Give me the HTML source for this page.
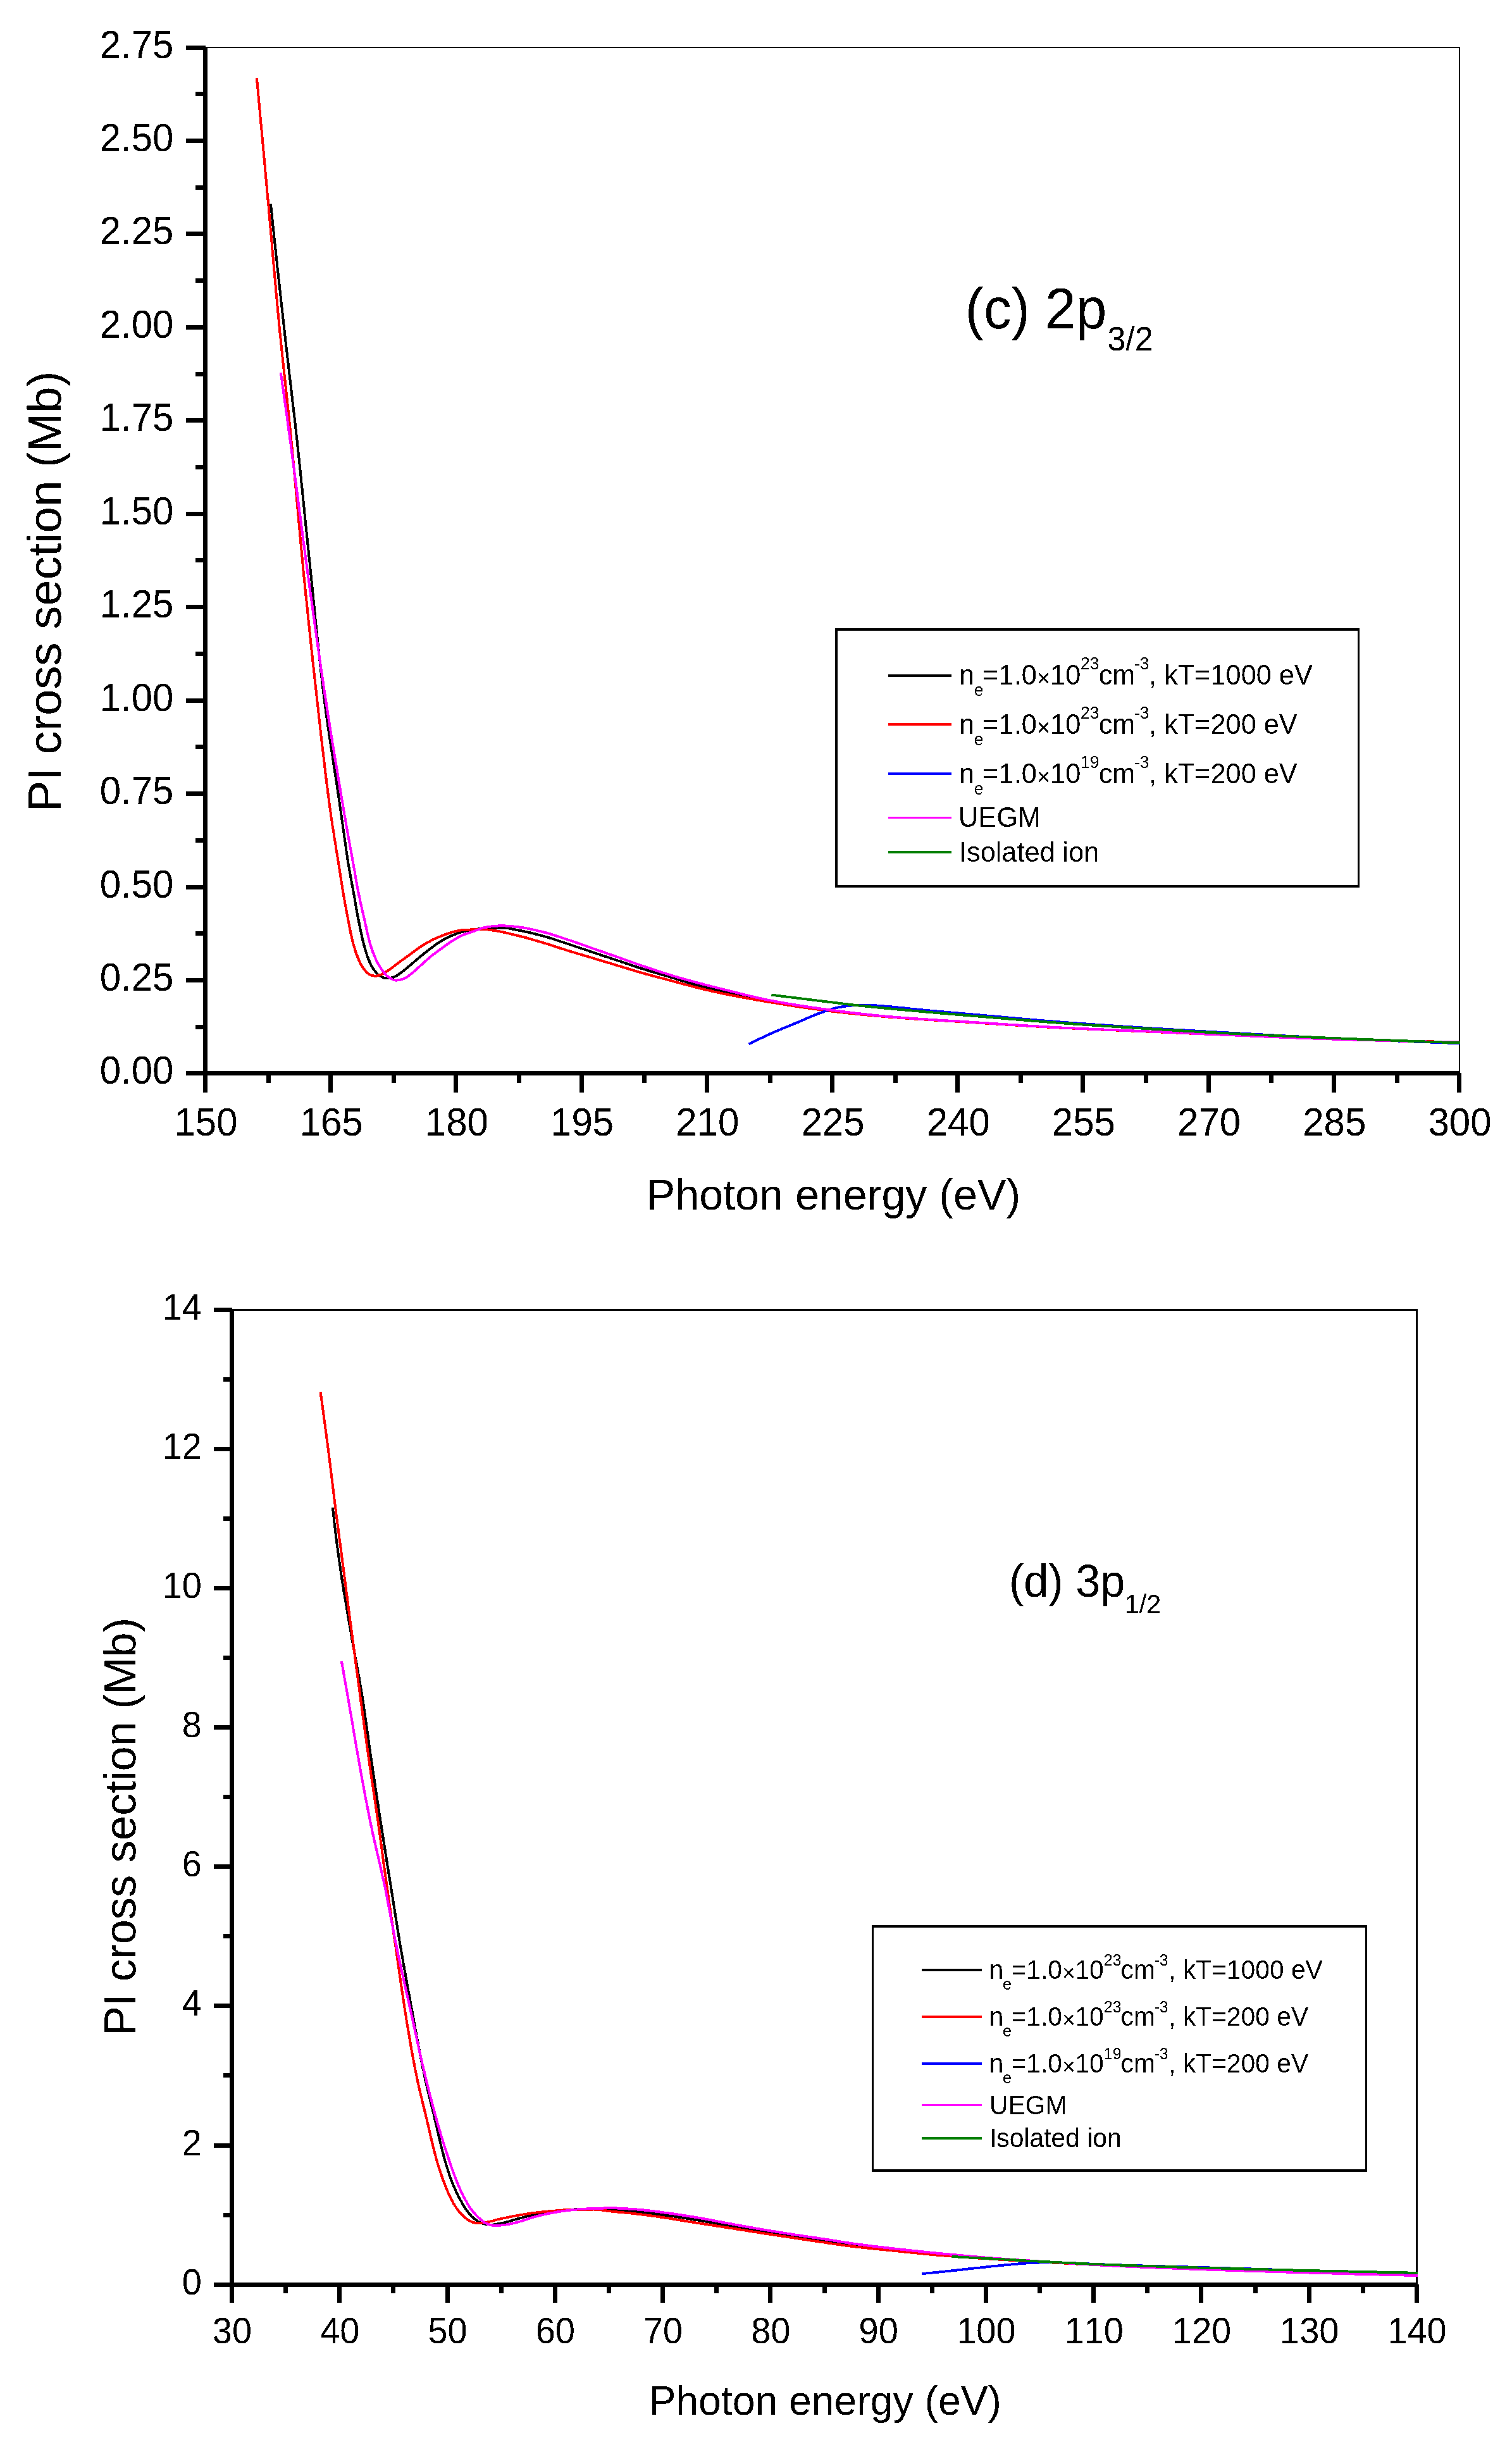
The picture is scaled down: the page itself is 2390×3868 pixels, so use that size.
<!DOCTYPE html>
<html><head><meta charset="utf-8"><title>PI cross section</title>
<style>html,body{margin:0;padding:0;background:#fff}svg{display:block}text{font-kerning:none;font-family:"Liberation Sans",sans-serif;fill:#000}</style></head>
<body>
<svg width="2390" height="3868" viewBox="0 0 2390 3868">
<rect width="2390" height="3868" fill="#fff"/>
<defs><filter id="th" filterUnits="userSpaceOnUse" x="0" y="0" width="2390" height="3868"><feComponentTransfer><feFuncA type="discrete" tableValues="0 1"/></feComponentTransfer></filter></defs>
<g shape-rendering="crispEdges">
<rect x="325" y="74" width="1983" height="2" fill="#000"/>
<rect x="2306" y="74" width="2" height="1622" fill="#000"/>
<rect x="321" y="74" width="7" height="1653" fill="#000"/>
<rect x="294" y="1693" width="2012" height="7" fill="#000"/>
<rect x="294" y="1693" width="27" height="7" fill="#000"/>
<rect x="309" y="1620" width="12" height="7" fill="#000"/>
<rect x="294" y="1546" width="27" height="7" fill="#000"/>
<rect x="309" y="1472" width="12" height="7" fill="#000"/>
<rect x="294" y="1399" width="27" height="7" fill="#000"/>
<rect x="309" y="1325" width="12" height="7" fill="#000"/>
<rect x="294" y="1251" width="27" height="7" fill="#000"/>
<rect x="309" y="1177" width="12" height="7" fill="#000"/>
<rect x="294" y="1104" width="27" height="7" fill="#000"/>
<rect x="309" y="1030" width="12" height="7" fill="#000"/>
<rect x="294" y="956" width="27" height="7" fill="#000"/>
<rect x="309" y="882" width="12" height="7" fill="#000"/>
<rect x="294" y="809" width="27" height="7" fill="#000"/>
<rect x="309" y="735" width="12" height="7" fill="#000"/>
<rect x="294" y="661" width="27" height="7" fill="#000"/>
<rect x="309" y="588" width="12" height="7" fill="#000"/>
<rect x="294" y="514" width="27" height="7" fill="#000"/>
<rect x="309" y="440" width="12" height="7" fill="#000"/>
<rect x="294" y="366" width="27" height="7" fill="#000"/>
<rect x="309" y="293" width="12" height="7" fill="#000"/>
<rect x="294" y="219" width="27" height="7" fill="#000"/>
<rect x="309" y="145" width="12" height="7" fill="#000"/>
<rect x="294" y="72" width="31" height="7" fill="#000"/>
<rect x="321" y="1700" width="7" height="27" fill="#000"/>
<rect x="421" y="1700" width="7" height="12" fill="#000"/>
<rect x="519" y="1700" width="7" height="27" fill="#000"/>
<rect x="619" y="1700" width="7" height="12" fill="#000"/>
<rect x="717" y="1700" width="7" height="27" fill="#000"/>
<rect x="817" y="1700" width="7" height="12" fill="#000"/>
<rect x="916" y="1700" width="7" height="27" fill="#000"/>
<rect x="1015" y="1700" width="7" height="12" fill="#000"/>
<rect x="1114" y="1700" width="7" height="27" fill="#000"/>
<rect x="1214" y="1700" width="7" height="12" fill="#000"/>
<rect x="1312" y="1700" width="7" height="27" fill="#000"/>
<rect x="1412" y="1700" width="7" height="12" fill="#000"/>
<rect x="1510" y="1700" width="7" height="27" fill="#000"/>
<rect x="1610" y="1700" width="7" height="12" fill="#000"/>
<rect x="1708" y="1700" width="7" height="27" fill="#000"/>
<rect x="1808" y="1700" width="7" height="12" fill="#000"/>
<rect x="1907" y="1700" width="7" height="27" fill="#000"/>
<rect x="2006" y="1700" width="7" height="12" fill="#000"/>
<rect x="2105" y="1700" width="7" height="27" fill="#000"/>
<rect x="2205" y="1700" width="7" height="12" fill="#000"/>
<rect x="2303" y="1696" width="7" height="31" fill="#000"/>
</g>
<clipPath id="clip1"><rect x="321" y="72" width="1987" height="1631"/></clipPath>
<g clip-path="url(#clip1)" shape-rendering="crispEdges">
<polyline points="427.9,321.9 428.2,324.9 428.5,327.9 428.8,330.9 429.1,333.9 429.5,336.8 429.8,339.8 430.1,342.8 430.4,345.8 430.7,348.8 431.0,351.8 431.3,354.8 431.6,357.7 432.0,360.7 432.3,363.7 432.6,366.7 432.9,369.7 433.2,372.7 433.5,375.7 433.9,378.7 434.2,381.6 434.5,384.6 434.8,387.6 435.1,390.6 435.4,393.6 435.8,396.6 436.1,399.6 436.4,402.6 436.7,405.5 437.0,408.5 437.4,411.5 437.7,414.5 438.0,417.5 438.3,420.5 438.6,423.5 439.0,426.4 439.3,429.4 439.6,432.4 439.9,435.4 440.3,438.4 440.6,441.4 440.9,444.4 441.2,447.3 441.6,450.3 441.9,453.3 442.2,456.3 442.5,459.3 442.9,462.3 443.2,465.3 443.5,468.2 443.8,471.2 444.2,474.2 444.5,477.2 444.8,480.2 445.1,483.2 445.5,486.2 445.8,489.1 446.1,492.1 446.5,495.1 446.8,498.1 447.1,501.1 447.5,504.1 447.8,507.1 448.1,510.0 448.5,513.0 448.8,516.0 449.1,519.0 449.5,522.0 449.8,525.0 450.1,527.9 450.5,530.9 450.8,533.9 451.2,536.9 451.5,539.9 451.8,542.9 452.2,545.9 452.5,548.8 452.9,551.8 453.2,554.8 453.6,557.8 453.9,560.8 454.3,563.8 454.6,566.7 455.0,569.7 455.3,572.7 455.7,575.7 456.0,578.7 456.4,581.7 456.7,584.6 457.1,587.6 457.4,590.6 457.7,593.6 458.1,596.6 458.4,599.6 458.8,602.5 459.1,605.5 459.5,608.5 459.8,611.5 460.2,614.5 460.5,617.5 460.9,620.4 461.2,623.4 461.6,626.4 461.9,629.4 462.3,632.4 462.6,635.4 463.0,638.3 463.3,641.3 463.6,644.3 464.0,647.3 464.3,650.3 464.7,653.3 465.0,656.2 465.4,659.2 465.7,662.2 466.0,665.2 466.4,668.2 466.7,671.2 467.0,674.2 467.4,677.1 467.7,680.1 468.0,683.1 468.4,686.1 468.7,689.1 469.0,692.1 469.4,695.0 469.7,698.0 470.0,701.0 470.3,704.0 470.7,707.0 471.0,710.0 471.3,713.0 471.6,716.0 471.9,718.9 472.3,721.9 472.6,724.9 472.9,727.9 473.2,730.9 473.5,733.9 473.8,736.9 474.1,739.8 474.5,742.8 474.8,745.8 475.1,748.8 475.4,751.8 475.7,754.8 476.0,757.8 476.3,760.8 476.6,763.7 476.9,766.7 477.2,769.7 477.6,772.7 477.9,775.7 478.2,778.7 478.5,781.7 478.8,784.7 479.1,787.6 479.4,790.6 479.7,793.6 480.0,796.6 480.3,799.6 480.6,802.6 480.9,805.6 481.2,808.6 481.5,811.6 481.8,814.5 482.1,817.5 482.4,820.5 482.7,823.5 483.0,826.5 483.3,829.5 483.6,832.5 484.0,835.5 484.3,838.4 484.6,841.4 484.9,844.4 485.2,847.4 485.5,850.4 485.8,853.4 486.1,856.4 486.4,859.4 486.7,862.4 487.0,865.3 487.3,868.3 487.6,871.3 487.9,874.3 488.2,877.3 488.5,880.3 488.9,883.3 489.2,886.3 489.5,889.2 489.8,892.2 490.1,895.2 490.4,898.2 490.7,901.2 491.0,904.2 491.3,907.2 491.7,910.2 492.0,913.1 492.3,916.1 492.6,919.1 492.9,922.1 493.2,925.1 493.5,928.1 493.8,931.1 494.1,934.1 494.4,937.1 494.7,940.0 495.0,943.0 495.3,946.0 495.6,949.0 495.9,952.0 496.2,955.0 496.5,958.0 496.8,961.0 497.1,964.0 497.4,966.9 497.7,969.9 498.0,972.9 498.3,975.9 498.6,978.9 498.9,981.9 499.2,984.9 499.5,987.9 499.8,990.9 500.1,993.8 500.5,996.8 500.8,999.8 501.1,1002.8 501.4,1005.8 501.7,1008.8 502.0,1011.8 502.3,1014.8 502.6,1017.7 502.9,1020.7 503.2,1023.7 503.6,1026.7 503.9,1029.7 504.2,1032.7 504.5,1035.7 504.8,1038.7 505.2,1041.6 505.5,1044.6 505.8,1047.6 506.1,1050.6 506.5,1053.6 506.8,1056.6 507.1,1059.6 507.5,1062.5 507.8,1065.5 508.2,1068.5 508.5,1071.5 508.8,1074.5 509.2,1077.5 509.5,1080.4 509.9,1083.4 510.2,1086.4 510.6,1089.4 511.0,1092.4 511.3,1095.3 511.7,1098.3 512.1,1101.3 512.4,1104.3 512.8,1107.3 513.2,1110.2 513.6,1113.2 514.0,1116.2 514.4,1119.2 514.8,1122.1 515.2,1125.1 515.6,1128.1 516.0,1131.1 516.4,1134.0 516.8,1137.0 517.2,1140.0 517.7,1143.0 518.1,1145.9 518.5,1148.9 519.0,1151.9 519.4,1154.8 519.8,1157.8 520.3,1160.8 520.7,1163.8 521.1,1166.7 521.6,1169.7 522.0,1172.7 522.5,1175.6 522.9,1178.6 523.4,1181.6 523.8,1184.6 524.3,1187.5 524.7,1190.5 525.2,1193.5 525.7,1196.4 526.1,1199.4 526.6,1202.4 527.0,1205.3 527.5,1208.3 527.9,1211.3 528.4,1214.2 528.9,1217.2 529.3,1220.2 529.8,1223.2 530.2,1226.1 530.7,1229.1 531.1,1232.1 531.6,1235.0 532.0,1238.0 532.5,1241.0 532.9,1243.9 533.4,1246.9 533.8,1249.9 534.3,1252.9 534.7,1255.8 535.2,1258.8 535.6,1261.8 536.0,1264.7 536.5,1267.7 536.9,1270.7 537.3,1273.7 537.8,1276.6 538.2,1279.6 538.6,1282.6 539.0,1285.6 539.5,1288.5 539.9,1291.5 540.3,1294.5 540.7,1297.5 541.2,1300.4 541.6,1303.4 542.0,1306.4 542.4,1309.3 542.9,1312.3 543.3,1315.3 543.7,1318.3 544.1,1321.2 544.6,1324.2 545.0,1327.2 545.4,1330.2 545.8,1333.1 546.3,1336.1 546.7,1339.1 547.1,1342.1 547.5,1345.0 548.0,1348.0 548.4,1351.0 548.8,1353.9 549.3,1356.9 549.7,1359.9 550.2,1362.8 550.7,1365.8 551.2,1368.8 551.7,1371.7 552.2,1374.7 552.7,1377.7 553.2,1380.6 553.8,1383.6 554.3,1386.5 554.9,1389.5 555.4,1392.4 556.0,1395.4 556.5,1398.3 557.1,1401.3 557.6,1404.2 558.2,1407.2 558.7,1410.1 559.2,1413.1 559.8,1416.1 560.3,1419.0 560.8,1422.0 561.3,1424.9 561.8,1427.9 562.3,1430.9 562.8,1433.8 563.4,1436.8 563.9,1439.7 564.4,1442.7 565.0,1445.6 565.5,1448.6 566.1,1451.5 566.7,1454.5 567.3,1457.4 567.9,1460.4 568.5,1463.3 569.1,1466.3 569.7,1469.2 570.3,1472.2 570.9,1475.1 571.6,1478.0 572.2,1481.0 572.9,1483.9 573.6,1486.8 574.3,1489.7 575.1,1492.6 575.8,1495.5 576.6,1498.4 577.5,1501.3 578.3,1504.2 579.2,1507.1 580.2,1510.0 581.2,1512.8 582.2,1515.6 583.3,1518.4 584.5,1521.1 585.7,1523.9 587.1,1526.5 588.7,1529.2 590.3,1531.7 592.0,1534.1 593.9,1536.6 595.9,1539.0 598.1,1541.0 600.4,1542.6 603.1,1544.1 605.9,1545.4 608.9,1546.1 611.8,1546.2 614.9,1545.9 617.9,1545.6 620.8,1545.1 623.5,1544.2 626.2,1542.7 628.8,1541.0 631.3,1539.3 633.8,1537.6 636.2,1535.8 638.5,1533.9 640.9,1532.0 643.2,1530.1 645.5,1528.2 647.8,1526.3 650.1,1524.3 652.4,1522.4 654.7,1520.4 657.0,1518.4 659.2,1516.5 661.5,1514.5 663.8,1512.6 666.2,1510.7 668.5,1508.8 670.8,1506.9 673.2,1505.0 675.5,1503.2 677.9,1501.3 680.3,1499.5 682.7,1497.7 685.1,1495.9 687.5,1494.1 690.0,1492.3 692.4,1490.6 694.9,1489.0 697.5,1487.4 700.1,1485.9 702.7,1484.5 705.4,1483.1 708.1,1481.7 710.8,1480.4 713.5,1479.2 716.3,1478.1 719.1,1476.9 721.9,1475.9 724.7,1474.8 727.6,1473.9 730.5,1473.1 733.4,1472.3 736.3,1471.6 739.2,1471.0 742.2,1470.5 745.2,1470.0 748.1,1469.5 751.1,1469.1 754.1,1468.6 757.1,1468.2 760.0,1467.8 763.0,1467.5 766.0,1467.3 769.0,1467.2 772.0,1467.0 775.0,1466.9 778.0,1466.8 781.0,1466.7 784.0,1466.6 787.1,1466.6 790.0,1466.5 793.0,1466.5 796.0,1466.6 799.0,1466.8 802.0,1467.2 805.0,1467.7 807.9,1468.2 810.9,1468.8 813.9,1469.4 816.8,1470.0 819.8,1470.6 822.7,1471.1 825.7,1471.7 828.6,1472.3 831.5,1472.9 834.5,1473.6 837.4,1474.2 840.3,1474.9 843.3,1475.6 846.2,1476.4 849.1,1477.1 852.0,1477.8 854.9,1478.6 857.8,1479.4 860.7,1480.2 863.6,1481.0 866.5,1481.8 869.3,1482.7 872.2,1483.6 875.1,1484.5 877.9,1485.5 880.8,1486.4 883.6,1487.4 886.5,1488.3 889.3,1489.3 892.2,1490.2 895.0,1491.2 897.9,1492.1 900.7,1493.1 903.6,1494.0 906.4,1495.0 909.3,1495.9 912.1,1496.9 915.0,1497.8 917.8,1498.8 920.7,1499.7 923.5,1500.7 926.4,1501.7 929.2,1502.6 932.1,1503.6 934.9,1504.5 937.7,1505.5 940.6,1506.4 943.4,1507.4 946.3,1508.3 949.1,1509.3 952.0,1510.2 954.8,1511.2 957.7,1512.1 960.5,1513.1 963.4,1514.0 966.2,1515.0 969.1,1515.9 972.0,1516.9 974.8,1517.8 977.7,1518.8 980.5,1519.7 983.3,1520.7 986.2,1521.6 989.0,1522.6 991.9,1523.5 994.7,1524.5 997.6,1525.5 1000.4,1526.4 1003.3,1527.4 1006.1,1528.3 1009.0,1529.3 1011.8,1530.2 1014.7,1531.1 1017.6,1532.0 1020.4,1532.9 1023.3,1533.8 1026.2,1534.7 1029.0,1535.6 1031.9,1536.4 1034.8,1537.3 1037.7,1538.1 1040.5,1539.0 1043.4,1539.8 1046.3,1540.7 1049.2,1541.5 1052.1,1542.4 1055.0,1543.2 1057.8,1544.1 1060.7,1545.0 1063.6,1545.8 1066.5,1546.7 1069.3,1547.6 1072.2,1548.5 1075.1,1549.4 1077.9,1550.3 1080.8,1551.2 1083.7,1552.0 1086.6,1552.9 1089.4,1553.7 1092.3,1554.6 1095.2,1555.4 1098.1,1556.2 1101.0,1557.0 1103.9,1557.7 1106.8,1558.5 1109.7,1559.2 1112.6,1560.0 1115.6,1560.7 1118.5,1561.4 1121.4,1562.1 1124.3,1562.8 1127.2,1563.5 1130.2,1564.2 1133.1,1564.9 1136.0,1565.6 1138.9,1566.3 1141.9,1566.9 1144.8,1567.6 1147.7,1568.2 1150.6,1568.9 1153.6,1569.6 1156.5,1570.2 1159.4,1570.9 1162.4,1571.5 1165.3,1572.2 1168.3,1572.8 1171.2,1573.4 1174.1,1574.1 1177.1,1574.7 1180.0,1575.3 1182.9,1575.9 1185.9,1576.5 1188.8,1577.1 1191.8,1577.7 1194.7,1578.3 1197.7,1578.9 1200.6,1579.5 1203.6,1580.1 1206.5,1580.6 1209.5,1581.2 1212.4,1581.7 1215.4,1582.3 1218.3,1582.8 1221.3,1583.3 1224.2,1583.9 1227.2,1584.4 1230.1,1584.9 1233.1,1585.4 1236.1,1585.9 1239.0,1586.4 1242.0,1586.9 1245.0,1587.4 1247.9,1587.9 1250.9,1588.4 1253.9,1588.9 1256.8,1589.3 1259.8,1589.8 1262.8,1590.3 1265.7,1590.7 1268.7,1591.2 1271.7,1591.7 1274.6,1592.1 1277.6,1592.6 1280.6,1593.0 1283.6,1593.4 1286.5,1593.9 1289.5,1594.3 1292.5,1594.7 1295.5,1595.1 1298.4,1595.5 1301.4,1595.9 1304.4,1596.3 1307.4,1596.7 1310.3,1597.1 1313.3,1597.5 1316.3,1597.8 1319.3,1598.2 1322.2,1598.6 1325.2,1598.9 1328.2,1599.3 1331.2,1599.7 1334.2,1600.0 1337.2,1600.4 1340.1,1600.7 1343.1,1601.1 1346.1,1601.4 1349.1,1601.7 1352.1,1602.1 1355.1,1602.4 1358.1,1602.7 1361.0,1603.0 1364.0,1603.4 1367.0,1603.7 1370.0,1604.0 1373.0,1604.3 1376.0,1604.6 1379.0,1604.9 1382.0,1605.2 1385.0,1605.5 1388.0,1605.7 1390.9,1606.0 1393.9,1606.3 1396.9,1606.5 1399.9,1606.8 1402.9,1607.1 1405.9,1607.3 1408.9,1607.6 1411.9,1607.8 1414.9,1608.0 1417.9,1608.3 1420.9,1608.5 1423.9,1608.7 1426.9,1609.0 1429.8,1609.2 1432.8,1609.4 1435.8,1609.6 1438.8,1609.8 1441.8,1610.1 1444.8,1610.3 1447.8,1610.5 1450.8,1610.7 1453.8,1610.9 1456.8,1611.1 1459.8,1611.3 1462.8,1611.5 1465.8,1611.7 1468.8,1611.9 1471.8,1612.1 1474.8,1612.3 1477.8,1612.4 1480.8,1612.6 1483.8,1612.8 1486.8,1613.0 1489.8,1613.2 1492.8,1613.4 1495.8,1613.6 1498.8,1613.7 1501.8,1613.9 1504.8,1614.1 1507.8,1614.3 1510.8,1614.5 1513.8,1614.7 1516.8,1614.9 1519.8,1615.0 1522.8,1615.2 1525.8,1615.4 1528.8,1615.6 1531.8,1615.8 1534.8,1616.0 1537.8,1616.2 1540.8,1616.3 1543.8,1616.5 1546.8,1616.7 1549.8,1616.9 1552.8,1617.1 1555.7,1617.3 1558.7,1617.5 1561.7,1617.7 1564.7,1617.9 1567.7,1618.1 1570.7,1618.3 1573.7,1618.5 1576.7,1618.7 1579.7,1618.8 1582.7,1619.0 1585.7,1619.2 1588.7,1619.4 1591.7,1619.6 1594.7,1619.8 1597.7,1620.0 1600.7,1620.2 1603.7,1620.4 1606.7,1620.5 1609.7,1620.7 1612.7,1620.9 1615.7,1621.1 1618.7,1621.3 1621.7,1621.5 1624.7,1621.6 1627.7,1621.8 1630.7,1622.0 1633.7,1622.2 1636.7,1622.4 1639.7,1622.5 1642.7,1622.7 1645.7,1622.9 1648.7,1623.0 1651.7,1623.2 1654.7,1623.4 1657.7,1623.5 1660.7,1623.7 1663.7,1623.9 1666.7,1624.0 1669.7,1624.2 1672.7,1624.3 1675.7,1624.5 1678.7,1624.6 1681.7,1624.8 1684.7,1624.9 1687.7,1625.1 1690.7,1625.2 1693.7,1625.3 1696.7,1625.5 1699.7,1625.6 1702.7,1625.8 1705.7,1625.9 1708.7,1626.0 1711.7,1626.2 1714.7,1626.3 1717.7,1626.4 1720.7,1626.6 1723.7,1626.7 1726.7,1626.8 1729.7,1626.9 1732.7,1627.1 1735.7,1627.2 1738.7,1627.3 1741.7,1627.5 1744.7,1627.6 1747.7,1627.7 1750.7,1627.8 1753.7,1628.0 1756.7,1628.1 1759.7,1628.2 1762.7,1628.3 1765.7,1628.5 1768.7,1628.6 1771.7,1628.7 1774.7,1628.8 1777.7,1629.0 1780.7,1629.1 1783.7,1629.2 1786.7,1629.3 1789.7,1629.5 1792.7,1629.6 1795.7,1629.7 1798.7,1629.8 1801.7,1630.0 1804.7,1630.1 1807.7,1630.2 1810.7,1630.4 1813.7,1630.5 1816.7,1630.6 1819.7,1630.8 1822.7,1630.9 1825.7,1631.0 1828.7,1631.2 1831.7,1631.3 1834.7,1631.4 1837.7,1631.6 1840.7,1631.7 1843.7,1631.8 1846.7,1632.0 1849.7,1632.1 1852.7,1632.2 1855.7,1632.4 1858.7,1632.5 1861.7,1632.6 1864.7,1632.8 1867.7,1632.9 1870.7,1633.0 1873.7,1633.2 1876.7,1633.3 1879.7,1633.4 1882.7,1633.5 1885.7,1633.7 1888.7,1633.8 1891.7,1633.9 1894.7,1634.1 1897.7,1634.2 1900.7,1634.3 1903.7,1634.5 1906.7,1634.6 1909.7,1634.7 1912.7,1634.9 1915.7,1635.0 1918.7,1635.1 1921.7,1635.2 1924.7,1635.4 1927.7,1635.5 1930.7,1635.6 1933.7,1635.7 1936.7,1635.9 1939.7,1636.0 1942.7,1636.1 1945.7,1636.2 1948.7,1636.4 1951.7,1636.5 1954.7,1636.6 1957.7,1636.7 1960.7,1636.9 1963.7,1637.0 1966.8,1637.1 1969.8,1637.2 1972.8,1637.4 1975.8,1637.5 1978.8,1637.6 1981.8,1637.7 1984.8,1637.9 1987.8,1638.0 1990.8,1638.1 1993.8,1638.2 1996.8,1638.4 1999.8,1638.5 2002.8,1638.6 2005.8,1638.7 2008.8,1638.8 2011.8,1639.0 2014.8,1639.1 2017.8,1639.2 2020.8,1639.3 2023.8,1639.4 2026.8,1639.6 2029.8,1639.7 2032.8,1639.8 2035.8,1639.9 2038.8,1640.0 2041.8,1640.1 2044.8,1640.2 2047.8,1640.3 2050.8,1640.5 2053.8,1640.6 2056.8,1640.7 2059.8,1640.8 2062.8,1640.9 2065.8,1641.0 2068.8,1641.1 2071.8,1641.2 2074.8,1641.3 2077.8,1641.4 2080.8,1641.5 2083.8,1641.6 2086.8,1641.7 2089.8,1641.8 2092.8,1641.9 2095.8,1642.0 2098.8,1642.1 2101.8,1642.1 2104.8,1642.2 2107.8,1642.3 2110.8,1642.4 2113.8,1642.5 2116.8,1642.6 2119.8,1642.7 2122.8,1642.8 2125.8,1642.9 2128.8,1642.9 2131.8,1643.0 2134.8,1643.1 2137.8,1643.2 2140.8,1643.3 2143.8,1643.4 2146.9,1643.5 2149.9,1643.5 2152.9,1643.6 2155.9,1643.7 2158.9,1643.8 2161.9,1643.9 2164.9,1644.0 2167.9,1644.0 2170.9,1644.1 2173.9,1644.2 2176.9,1644.3 2179.9,1644.4 2182.9,1644.4 2185.9,1644.5 2188.9,1644.6 2191.9,1644.7 2194.9,1644.7 2197.9,1644.8 2200.9,1644.9 2203.9,1645.0 2206.9,1645.1 2209.9,1645.1 2212.9,1645.2 2215.9,1645.3 2218.9,1645.4 2221.9,1645.4 2224.9,1645.5 2227.9,1645.6 2230.9,1645.7 2233.9,1645.7 2236.9,1645.8 2239.9,1645.9 2242.9,1646.0 2245.9,1646.0 2248.9,1646.1 2251.9,1646.2 2254.9,1646.2 2257.9,1646.3 2261.0,1646.4 2264.0,1646.4 2267.0,1646.5 2270.0,1646.6 2273.0,1646.7 2276.0,1646.7 2279.0,1646.8 2282.0,1646.9 2285.0,1646.9 2288.0,1647.0 2291.0,1647.1 2294.0,1647.1 2297.0,1647.2 2300.0,1647.2 2303.0,1647.3 2306.0,1647.4 2309.0,1647.4 2312.0,1647.5" fill="none" stroke="#000000" stroke-width="4" stroke-linejoin="round"/>
<polyline points="405.8,122.9 406.1,125.9 406.4,128.9 406.6,131.9 406.9,134.9 407.2,137.9 407.5,140.8 407.7,143.8 408.0,146.8 408.3,149.8 408.6,152.8 408.9,155.8 409.1,158.8 409.4,161.8 409.7,164.8 410.0,167.8 410.2,170.8 410.5,173.8 410.8,176.7 411.1,179.7 411.3,182.7 411.6,185.7 411.9,188.7 412.2,191.7 412.4,194.7 412.7,197.7 413.0,200.7 413.3,203.7 413.6,206.7 413.8,209.7 414.1,212.6 414.4,215.6 414.7,218.6 414.9,221.6 415.2,224.6 415.5,227.6 415.8,230.6 416.0,233.6 416.3,236.6 416.6,239.6 416.8,242.6 417.1,245.6 417.4,248.5 417.7,251.5 417.9,254.5 418.2,257.5 418.5,260.5 418.8,263.5 419.0,266.5 419.3,269.5 419.6,272.5 419.9,275.5 420.1,278.5 420.4,281.5 420.7,284.4 420.9,287.4 421.2,290.4 421.5,293.4 421.8,296.4 422.0,299.4 422.3,302.4 422.6,305.4 422.8,308.4 423.1,311.4 423.4,314.4 423.7,317.4 423.9,320.3 424.2,323.3 424.5,326.3 424.7,329.3 425.0,332.3 425.3,335.3 425.5,338.3 425.8,341.3 426.1,344.3 426.3,347.3 426.6,350.3 426.9,353.3 427.1,356.3 427.4,359.2 427.7,362.2 427.9,365.2 428.2,368.2 428.4,371.2 428.7,374.2 429.0,377.2 429.2,380.2 429.5,383.2 429.8,386.2 430.0,389.2 430.3,392.2 430.5,395.2 430.8,398.2 431.1,401.1 431.3,404.1 431.6,407.1 431.8,410.1 432.1,413.1 432.4,416.1 432.6,419.1 432.9,422.1 433.2,425.1 433.4,428.1 433.7,431.1 433.9,434.1 434.2,437.1 434.5,440.1 434.7,443.0 435.0,446.0 435.3,449.0 435.6,452.0 435.8,455.0 436.1,458.0 436.4,461.0 436.6,464.0 436.9,467.0 437.2,470.0 437.5,473.0 437.7,476.0 438.0,478.9 438.3,481.9 438.6,484.9 438.9,487.9 439.1,490.9 439.4,493.9 439.7,496.9 440.0,499.9 440.3,502.9 440.6,505.9 440.9,508.9 441.2,511.8 441.4,514.8 441.7,517.8 442.0,520.8 442.3,523.8 442.6,526.8 442.9,529.8 443.3,532.8 443.6,535.8 443.9,538.7 444.2,541.7 444.5,544.7 444.8,547.7 445.1,550.7 445.4,553.7 445.7,556.7 446.0,559.7 446.4,562.6 446.7,565.6 447.0,568.6 447.3,571.6 447.6,574.6 447.9,577.6 448.3,580.6 448.6,583.6 448.9,586.5 449.2,589.5 449.5,592.5 449.9,595.5 450.2,598.5 450.5,601.5 450.8,604.5 451.1,607.5 451.5,610.4 451.8,613.4 452.1,616.4 452.4,619.4 452.8,622.4 453.1,625.4 453.4,628.4 453.7,631.4 454.0,634.3 454.3,637.3 454.7,640.3 455.0,643.3 455.3,646.3 455.6,649.3 455.9,652.3 456.2,655.3 456.6,658.2 456.9,661.2 457.2,664.2 457.5,667.2 457.8,670.2 458.1,673.2 458.4,676.2 458.7,679.2 459.0,682.1 459.3,685.1 459.6,688.1 459.9,691.1 460.2,694.1 460.5,697.1 460.8,700.1 461.1,703.1 461.4,706.1 461.7,709.1 462.0,712.0 462.3,715.0 462.5,718.0 462.8,721.0 463.1,724.0 463.4,727.0 463.7,730.0 464.0,733.0 464.2,736.0 464.5,739.0 464.8,741.9 465.1,744.9 465.4,747.9 465.6,750.9 465.9,753.9 466.2,756.9 466.4,759.9 466.7,762.9 467.0,765.9 467.3,768.9 467.5,771.9 467.8,774.9 468.1,777.9 468.4,780.8 468.6,783.8 468.9,786.8 469.2,789.8 469.4,792.8 469.7,795.8 470.0,798.8 470.2,801.8 470.5,804.8 470.8,807.8 471.1,810.8 471.3,813.8 471.6,816.7 471.9,819.7 472.1,822.7 472.4,825.7 472.7,828.7 473.0,831.7 473.2,834.7 473.5,837.7 473.8,840.7 474.1,843.7 474.3,846.7 474.6,849.7 474.9,852.6 475.2,855.6 475.4,858.6 475.7,861.6 476.0,864.6 476.3,867.6 476.6,870.6 476.8,873.6 477.1,876.6 477.4,879.6 477.7,882.6 478.0,885.5 478.3,888.5 478.6,891.5 478.9,894.5 479.2,897.5 479.4,900.5 479.7,903.5 480.0,906.5 480.3,909.5 480.6,912.5 480.9,915.4 481.2,918.4 481.5,921.4 481.8,924.4 482.1,927.4 482.4,930.4 482.7,933.4 483.0,936.4 483.3,939.4 483.6,942.3 483.9,945.3 484.3,948.3 484.6,951.3 484.9,954.3 485.2,957.3 485.5,960.3 485.8,963.3 486.1,966.3 486.4,969.2 486.7,972.2 487.0,975.2 487.3,978.2 487.6,981.2 488.0,984.2 488.3,987.2 488.6,990.2 488.9,993.1 489.2,996.1 489.5,999.1 489.8,1002.1 490.2,1005.1 490.5,1008.1 490.8,1011.1 491.1,1014.1 491.4,1017.0 491.7,1020.0 492.1,1023.0 492.4,1026.0 492.7,1029.0 493.0,1032.0 493.3,1035.0 493.7,1038.0 494.0,1040.9 494.3,1043.9 494.6,1046.9 495.0,1049.9 495.3,1052.9 495.6,1055.9 495.9,1058.9 496.3,1061.9 496.6,1064.8 496.9,1067.8 497.3,1070.8 497.6,1073.8 497.9,1076.8 498.2,1079.8 498.6,1082.8 498.9,1085.7 499.2,1088.7 499.6,1091.7 499.9,1094.7 500.2,1097.7 500.6,1100.7 500.9,1103.7 501.2,1106.6 501.6,1109.6 501.9,1112.6 502.2,1115.6 502.6,1118.6 502.9,1121.6 503.3,1124.6 503.6,1127.5 503.9,1130.5 504.3,1133.5 504.6,1136.5 504.9,1139.5 505.3,1142.5 505.6,1145.5 505.9,1148.4 506.3,1151.4 506.6,1154.4 506.9,1157.4 507.3,1160.4 507.6,1163.4 508.0,1166.4 508.3,1169.3 508.6,1172.3 509.0,1175.3 509.3,1178.3 509.7,1181.3 510.0,1184.3 510.4,1187.2 510.7,1190.2 511.1,1193.2 511.4,1196.2 511.8,1199.2 512.1,1202.2 512.5,1205.2 512.8,1208.1 513.2,1211.1 513.5,1214.1 513.9,1217.1 514.2,1220.1 514.6,1223.1 515.0,1226.0 515.3,1229.0 515.7,1232.0 516.1,1235.0 516.4,1238.0 516.8,1240.9 517.2,1243.9 517.6,1246.9 518.0,1249.9 518.3,1252.9 518.7,1255.8 519.1,1258.8 519.5,1261.8 519.9,1264.8 520.3,1267.8 520.7,1270.7 521.1,1273.7 521.5,1276.7 521.9,1279.7 522.3,1282.6 522.7,1285.6 523.1,1288.6 523.5,1291.6 523.9,1294.5 524.4,1297.5 524.8,1300.5 525.3,1303.4 525.8,1306.4 526.2,1309.4 526.7,1312.3 527.2,1315.3 527.7,1318.3 528.1,1321.2 528.6,1324.2 529.1,1327.2 529.5,1330.1 530.0,1333.1 530.5,1336.1 531.0,1339.0 531.4,1342.0 531.9,1345.0 532.4,1347.9 532.9,1350.9 533.4,1353.9 533.8,1356.8 534.3,1359.8 534.8,1362.8 535.3,1365.7 535.7,1368.7 536.2,1371.7 536.7,1374.6 537.1,1377.6 537.6,1380.6 538.0,1383.6 538.5,1386.5 539.0,1389.5 539.4,1392.5 539.9,1395.4 540.4,1398.4 540.8,1401.4 541.3,1404.3 541.8,1407.3 542.3,1410.2 542.8,1413.2 543.3,1416.2 543.8,1419.1 544.3,1422.1 544.9,1425.1 545.4,1428.0 545.9,1431.0 546.5,1433.9 547.0,1436.9 547.6,1439.8 548.1,1442.8 548.7,1445.7 549.2,1448.7 549.8,1451.6 550.4,1454.6 551.0,1457.5 551.6,1460.5 552.1,1463.4 552.7,1466.4 553.3,1469.4 553.9,1472.3 554.5,1475.3 555.2,1478.2 555.8,1481.1 556.5,1484.1 557.2,1487.0 557.9,1489.9 558.7,1492.8 559.5,1495.6 560.3,1498.5 561.2,1501.4 562.2,1504.3 563.1,1507.1 564.2,1510.0 565.3,1512.8 566.4,1515.6 567.6,1518.3 568.9,1521.0 570.2,1523.7 571.7,1526.4 573.3,1529.0 575.0,1531.5 576.8,1533.8 578.8,1536.0 581.0,1538.2 583.5,1540.2 586.0,1541.4 588.9,1542.2 591.9,1542.7 594.9,1542.7 597.9,1542.1 600.8,1541.1 603.6,1540.1 606.2,1538.8 608.9,1537.3 611.4,1535.6 613.9,1533.9 616.4,1532.2 618.8,1530.4 621.2,1528.6 623.5,1526.7 625.9,1524.9 628.3,1523.0 630.7,1521.2 633.1,1519.5 635.5,1517.7 638.0,1515.9 640.4,1514.2 642.9,1512.4 645.3,1510.7 647.7,1508.9 650.1,1507.1 652.5,1505.3 654.9,1503.5 657.4,1501.7 659.8,1500.0 662.3,1498.3 664.8,1496.6 667.3,1495.0 669.8,1493.4 672.4,1491.8 675.0,1490.3 677.6,1488.8 680.3,1487.4 682.9,1486.0 685.6,1484.7 688.4,1483.5 691.1,1482.2 693.9,1481.1 696.7,1479.9 699.5,1478.8 702.3,1477.7 705.1,1476.7 707.9,1475.7 710.8,1474.7 713.7,1473.9 716.6,1473.1 719.5,1472.3 722.4,1471.6 725.4,1471.0 728.3,1470.4 731.3,1470.1 734.3,1469.9 737.3,1469.7 740.3,1469.6 743.3,1469.5 746.3,1469.4 749.3,1469.3 752.3,1469.1 755.3,1468.8 758.3,1468.6 761.3,1468.6 764.3,1468.8 767.3,1469.0 770.3,1469.4 773.2,1469.8 776.2,1470.2 779.2,1470.6 782.2,1471.1 785.1,1471.5 788.1,1472.0 791.0,1472.6 794.0,1473.2 796.9,1473.8 799.9,1474.5 802.8,1475.2 805.7,1475.9 808.6,1476.6 811.6,1477.3 814.5,1478.0 817.4,1478.7 820.3,1479.4 823.2,1480.2 826.1,1480.9 829.1,1481.7 832.0,1482.4 834.8,1483.2 837.7,1484.1 840.6,1484.9 843.5,1485.7 846.4,1486.6 849.3,1487.4 852.2,1488.3 855.1,1489.1 857.9,1490.0 860.8,1490.8 863.7,1491.7 866.5,1492.6 869.4,1493.5 872.3,1494.5 875.1,1495.4 878.0,1496.3 880.8,1497.2 883.7,1498.2 886.5,1499.1 889.4,1500.0 892.3,1501.0 895.1,1501.9 898.0,1502.8 900.9,1503.7 903.7,1504.5 906.6,1505.4 909.5,1506.3 912.4,1507.2 915.2,1508.0 918.1,1508.9 921.0,1509.7 923.9,1510.6 926.8,1511.4 929.6,1512.3 932.5,1513.1 935.4,1514.0 938.3,1514.9 941.2,1515.7 944.0,1516.6 946.9,1517.5 949.8,1518.3 952.7,1519.2 955.5,1520.0 958.4,1520.9 961.3,1521.8 964.2,1522.6 967.1,1523.5 969.9,1524.4 972.8,1525.2 975.7,1526.1 978.6,1526.9 981.4,1527.8 984.3,1528.7 987.2,1529.6 990.1,1530.4 992.9,1531.3 995.8,1532.2 998.7,1533.1 1001.6,1533.9 1004.4,1534.8 1007.3,1535.7 1010.2,1536.5 1013.1,1537.3 1016.0,1538.2 1018.9,1539.0 1021.8,1539.8 1024.6,1540.6 1027.5,1541.4 1030.4,1542.2 1033.4,1542.9 1036.3,1543.7 1039.2,1544.5 1042.1,1545.2 1045.0,1546.0 1047.9,1546.8 1050.8,1547.5 1053.7,1548.3 1056.6,1549.1 1059.5,1549.8 1062.4,1550.6 1065.3,1551.4 1068.2,1552.2 1071.1,1553.0 1074.0,1553.8 1076.9,1554.6 1079.8,1555.4 1082.7,1556.1 1085.6,1556.9 1088.5,1557.7 1091.4,1558.4 1094.3,1559.2 1097.2,1559.9 1100.1,1560.7 1103.1,1561.4 1106.0,1562.1 1108.9,1562.8 1111.8,1563.6 1114.7,1564.3 1117.7,1565.0 1120.6,1565.7 1123.5,1566.3 1126.4,1567.0 1129.4,1567.7 1132.3,1568.3 1135.2,1569.0 1138.2,1569.6 1141.1,1570.2 1144.0,1570.8 1147.0,1571.4 1149.9,1572.0 1152.9,1572.6 1155.8,1573.2 1158.8,1573.8 1161.7,1574.3 1164.7,1574.9 1167.6,1575.5 1170.6,1576.0 1173.5,1576.6 1176.5,1577.1 1179.4,1577.6 1182.4,1578.2 1185.4,1578.7 1188.3,1579.2 1191.3,1579.7 1194.2,1580.3 1197.2,1580.8 1200.2,1581.3 1203.1,1581.8 1206.1,1582.3 1209.0,1582.8 1212.0,1583.3 1215.0,1583.8 1217.9,1584.3 1220.9,1584.7 1223.9,1585.2 1226.8,1585.7 1229.8,1586.2 1232.8,1586.7 1235.7,1587.2 1238.7,1587.6 1241.7,1588.1 1244.6,1588.6 1247.6,1589.1 1250.6,1589.5 1253.5,1590.0 1256.5,1590.5 1259.5,1590.9 1262.4,1591.4 1265.4,1591.8 1268.4,1592.3 1271.4,1592.7 1274.3,1593.1 1277.3,1593.6 1280.3,1594.0 1283.3,1594.4 1286.2,1594.8 1289.2,1595.3 1292.2,1595.7 1295.2,1596.1 1298.1,1596.5 1301.1,1596.8 1304.1,1597.2 1307.1,1597.6 1310.1,1598.0 1313.0,1598.3 1316.0,1598.7 1319.0,1599.0 1322.0,1599.4 1325.0,1599.7 1327.9,1600.1 1330.9,1600.4 1333.9,1600.7 1336.9,1601.1 1339.9,1601.4 1342.9,1601.7 1345.9,1602.0 1348.9,1602.3 1351.8,1602.6 1354.8,1603.0 1357.8,1603.3 1360.8,1603.6 1363.8,1603.9 1366.8,1604.1 1369.8,1604.4 1372.8,1604.7 1375.8,1605.0 1378.8,1605.3 1381.8,1605.6 1384.7,1605.8 1387.7,1606.1 1390.7,1606.3 1393.7,1606.6 1396.7,1606.9 1399.7,1607.1 1402.7,1607.4 1405.7,1607.6 1408.7,1607.8 1411.7,1608.1 1414.7,1608.3 1417.7,1608.5 1420.7,1608.8 1423.7,1609.0 1426.7,1609.2 1429.7,1609.4 1432.7,1609.6 1435.7,1609.8 1438.6,1610.0 1441.6,1610.3 1444.6,1610.5 1447.6,1610.7 1450.6,1610.9 1453.6,1611.1 1456.6,1611.3 1459.6,1611.4 1462.6,1611.6 1465.6,1611.8 1468.6,1612.0 1471.6,1612.2 1474.6,1612.4 1477.6,1612.6 1480.6,1612.8 1483.6,1613.0 1486.6,1613.1 1489.6,1613.3 1492.6,1613.5 1495.6,1613.7 1498.6,1613.9 1501.6,1614.0 1504.6,1614.2 1507.6,1614.4 1510.6,1614.6 1513.6,1614.8 1516.6,1615.0 1519.6,1615.1 1522.6,1615.3 1525.6,1615.5 1528.6,1615.7 1531.6,1615.9 1534.6,1616.1 1537.6,1616.2 1540.6,1616.4 1543.6,1616.6 1546.6,1616.8 1549.6,1617.0 1552.6,1617.2 1555.6,1617.4 1558.6,1617.6 1561.6,1617.8 1564.6,1618.0 1567.6,1618.2 1570.6,1618.3 1573.6,1618.5 1576.6,1618.7 1579.6,1618.9 1582.6,1619.1 1585.6,1619.3 1588.6,1619.5 1591.6,1619.7 1594.6,1619.9 1597.6,1620.1 1600.6,1620.3 1603.6,1620.4 1606.6,1620.6 1609.6,1620.8 1612.6,1621.0 1615.6,1621.2 1618.6,1621.4 1621.6,1621.5 1624.6,1621.7 1627.6,1621.9 1630.6,1622.1 1633.6,1622.3 1636.6,1622.4 1639.5,1622.6 1642.5,1622.8 1645.5,1623.0 1648.5,1623.1 1651.5,1623.3 1654.5,1623.5 1657.5,1623.6 1660.5,1623.8 1663.5,1623.9 1666.5,1624.1 1669.5,1624.3 1672.5,1624.4 1675.5,1624.6 1678.5,1624.7 1681.5,1624.9 1684.5,1625.0 1687.5,1625.2 1690.5,1625.3 1693.5,1625.4 1696.5,1625.6 1699.5,1625.7 1702.5,1625.9 1705.6,1626.0 1708.6,1626.1 1711.6,1626.3 1714.6,1626.4 1717.6,1626.5 1720.6,1626.7 1723.6,1626.8 1726.6,1626.9 1729.6,1627.0 1732.6,1627.2 1735.6,1627.3 1738.6,1627.4 1741.6,1627.6 1744.6,1627.7 1747.6,1627.8 1750.6,1627.9 1753.6,1628.1 1756.6,1628.2 1759.6,1628.3 1762.6,1628.4 1765.6,1628.6 1768.6,1628.7 1771.6,1628.8 1774.6,1628.9 1777.6,1629.1 1780.6,1629.2 1783.6,1629.3 1786.6,1629.4 1789.6,1629.6 1792.6,1629.7 1795.6,1629.8 1798.6,1629.9 1801.6,1630.1 1804.6,1630.2 1807.6,1630.3 1810.6,1630.5 1813.6,1630.6 1816.6,1630.7 1819.6,1630.9 1822.6,1631.0 1825.6,1631.1 1828.6,1631.2 1831.6,1631.4 1834.6,1631.5 1837.6,1631.6 1840.6,1631.8 1843.6,1631.9 1846.6,1632.0 1849.6,1632.2 1852.6,1632.3 1855.6,1632.4 1858.6,1632.5 1861.6,1632.7 1864.6,1632.8 1867.6,1632.9 1870.6,1633.1 1873.6,1633.2 1876.6,1633.3 1879.6,1633.5 1882.6,1633.6 1885.6,1633.7 1888.6,1633.8 1891.6,1634.0 1894.6,1634.1 1897.6,1634.2 1900.6,1634.4 1903.6,1634.5 1906.6,1634.6 1909.7,1634.7 1912.7,1634.9 1915.7,1635.0 1918.7,1635.1 1921.7,1635.2 1924.7,1635.4 1927.7,1635.5 1930.7,1635.6 1933.7,1635.7 1936.7,1635.9 1939.7,1636.0 1942.7,1636.1 1945.7,1636.2 1948.7,1636.4 1951.7,1636.5 1954.7,1636.6 1957.7,1636.7 1960.7,1636.9 1963.7,1637.0 1966.7,1637.1 1969.7,1637.2 1972.7,1637.4 1975.7,1637.5 1978.7,1637.6 1981.7,1637.7 1984.7,1637.9 1987.7,1638.0 1990.7,1638.1 1993.7,1638.2 1996.7,1638.3 1999.7,1638.5 2002.7,1638.6 2005.7,1638.7 2008.7,1638.8 2011.7,1639.0 2014.7,1639.1 2017.7,1639.2 2020.7,1639.3 2023.7,1639.4 2026.7,1639.5 2029.7,1639.7 2032.7,1639.8 2035.7,1639.9 2038.7,1640.0 2041.7,1640.1 2044.7,1640.2 2047.7,1640.3 2050.7,1640.4 2053.7,1640.6 2056.7,1640.7 2059.7,1640.8 2062.7,1640.9 2065.7,1641.0 2068.7,1641.1 2071.7,1641.2 2074.8,1641.3 2077.8,1641.4 2080.8,1641.5 2083.8,1641.6 2086.8,1641.7 2089.8,1641.8 2092.8,1641.9 2095.8,1642.0 2098.8,1642.0 2101.8,1642.1 2104.8,1642.2 2107.8,1642.3 2110.8,1642.4 2113.8,1642.5 2116.8,1642.6 2119.8,1642.7 2122.8,1642.8 2125.8,1642.9 2128.8,1642.9 2131.8,1643.0 2134.8,1643.1 2137.8,1643.2 2140.8,1643.3 2143.8,1643.4 2146.8,1643.5 2149.8,1643.5 2152.8,1643.6 2155.8,1643.7 2158.8,1643.8 2161.8,1643.9 2164.8,1644.0 2167.8,1644.0 2170.8,1644.1 2173.8,1644.2 2176.8,1644.3 2179.9,1644.4 2182.9,1644.4 2185.9,1644.5 2188.9,1644.6 2191.9,1644.7 2194.9,1644.7 2197.9,1644.8 2200.9,1644.9 2203.9,1645.0 2206.9,1645.1 2209.9,1645.1 2212.9,1645.2 2215.9,1645.3 2218.9,1645.4 2221.9,1645.4 2224.9,1645.5 2227.9,1645.6 2230.9,1645.7 2233.9,1645.7 2236.9,1645.8 2239.9,1645.9 2242.9,1646.0 2245.9,1646.0 2248.9,1646.1 2251.9,1646.2 2254.9,1646.2 2257.9,1646.3 2260.9,1646.4 2263.9,1646.4 2266.9,1646.5 2270.0,1646.6 2273.0,1646.7 2276.0,1646.7 2279.0,1646.8 2282.0,1646.9 2285.0,1646.9 2288.0,1647.0 2291.0,1647.1 2294.0,1647.1 2297.0,1647.2 2300.0,1647.2 2303.0,1647.3 2306.0,1647.4 2309.0,1647.4 2312.0,1647.5" fill="none" stroke="#ff0000" stroke-width="4" stroke-linejoin="round"/>
<polyline points="1183.7,1650.6 1186.4,1649.2 1189.1,1647.9 1191.8,1646.5 1194.5,1645.2 1197.2,1643.8 1199.9,1642.5 1202.6,1641.2 1205.3,1639.9 1208.0,1638.6 1210.8,1637.3 1213.5,1636.1 1216.2,1634.8 1219.0,1633.6 1221.7,1632.4 1224.5,1631.1 1227.3,1629.9 1230.0,1628.8 1232.8,1627.6 1235.6,1626.4 1238.4,1625.3 1241.2,1624.1 1244.0,1623.0 1246.7,1621.8 1249.5,1620.7 1252.3,1619.6 1255.1,1618.4 1257.9,1617.3 1260.7,1616.1 1263.5,1614.9 1266.2,1613.7 1269.0,1612.5 1271.8,1611.3 1274.5,1610.1 1277.3,1608.9 1280.1,1607.7 1282.9,1606.5 1285.6,1605.4 1288.4,1604.3 1291.2,1603.1 1294.0,1602.1 1296.9,1601.0 1299.7,1600.1 1302.5,1599.0 1305.4,1598.0 1308.3,1597.0 1311.1,1596.1 1314.0,1595.2 1316.9,1594.3 1319.8,1593.5 1322.8,1592.9 1325.7,1592.3 1328.6,1591.8 1331.6,1591.3 1334.6,1590.8 1337.6,1590.4 1340.6,1590.0 1343.6,1589.7 1346.6,1589.5 1349.6,1589.3 1352.6,1589.3 1355.7,1589.3 1358.7,1589.3 1361.7,1589.3 1364.7,1589.3 1367.7,1589.3 1370.7,1589.3 1373.8,1589.3 1376.8,1589.3 1379.8,1589.3 1382.8,1589.4 1385.8,1589.5 1388.8,1589.7 1391.8,1590.0 1394.8,1590.2 1397.8,1590.5 1400.8,1590.8 1403.8,1591.0 1406.8,1591.3 1409.8,1591.5 1412.8,1591.8 1415.8,1592.1 1418.8,1592.4 1421.8,1592.7 1424.8,1593.0 1427.8,1593.3 1430.8,1593.6 1433.8,1594.0 1436.8,1594.3 1439.8,1594.6 1442.8,1594.9 1445.8,1595.2 1448.8,1595.5 1451.8,1595.8 1454.8,1596.1 1457.8,1596.4 1460.8,1596.7 1463.8,1597.0 1466.8,1597.3 1469.8,1597.5 1472.8,1597.8 1475.8,1598.1 1478.8,1598.4 1481.8,1598.6 1484.8,1598.9 1487.8,1599.2 1490.8,1599.4 1493.8,1599.7 1496.8,1600.0 1499.8,1600.2 1502.8,1600.5 1505.8,1600.7 1508.8,1601.0 1511.8,1601.3 1514.9,1601.5 1517.9,1601.8 1520.9,1602.0 1523.9,1602.3 1526.9,1602.6 1529.9,1602.8 1532.9,1603.1 1535.9,1603.3 1538.9,1603.6 1541.9,1603.9 1544.9,1604.1 1547.9,1604.4 1550.9,1604.7 1553.9,1604.9 1556.9,1605.2 1559.9,1605.5 1562.9,1605.7 1565.9,1606.0 1568.9,1606.3 1571.9,1606.5 1574.9,1606.8 1577.9,1607.1 1580.9,1607.4 1583.9,1607.6 1586.9,1607.9 1589.9,1608.2 1592.9,1608.4 1595.9,1608.7 1598.9,1609.0 1601.9,1609.2 1604.9,1609.5 1607.9,1609.8 1610.9,1610.0 1613.9,1610.3 1616.9,1610.6 1619.9,1610.8 1622.9,1611.1 1625.9,1611.4 1628.9,1611.6 1631.9,1611.9 1634.9,1612.1 1637.9,1612.4 1640.9,1612.7 1644.0,1612.9 1647.0,1613.2 1650.0,1613.4 1653.0,1613.7 1656.0,1613.9 1659.0,1614.1 1662.0,1614.4 1665.0,1614.6 1668.0,1614.9 1671.0,1615.1 1674.0,1615.3 1677.0,1615.6 1680.0,1615.8 1683.0,1616.0 1686.0,1616.2 1689.0,1616.5 1692.0,1616.7 1695.0,1616.9 1698.0,1617.1 1701.0,1617.4 1704.0,1617.6 1707.1,1617.8 1710.1,1618.0 1713.1,1618.2 1716.1,1618.4 1719.1,1618.7 1722.1,1618.9 1725.1,1619.1 1728.1,1619.3 1731.1,1619.5 1734.1,1619.7 1737.1,1619.9 1740.1,1620.1 1743.1,1620.3 1746.1,1620.5 1749.1,1620.8 1752.2,1621.0 1755.2,1621.2 1758.2,1621.4 1761.2,1621.6 1764.2,1621.8 1767.2,1622.0 1770.2,1622.2 1773.2,1622.4 1776.2,1622.6 1779.2,1622.8 1782.2,1623.0 1785.2,1623.2 1788.2,1623.3 1791.2,1623.5 1794.3,1623.7 1797.3,1623.9 1800.3,1624.1 1803.3,1624.3 1806.3,1624.5 1809.3,1624.7 1812.3,1624.9 1815.3,1625.1 1818.3,1625.3 1821.3,1625.5 1824.3,1625.6 1827.3,1625.8 1830.3,1626.0 1833.4,1626.2 1836.4,1626.4 1839.4,1626.6 1842.4,1626.7 1845.4,1626.9 1848.4,1627.1 1851.4,1627.3 1854.4,1627.5 1857.4,1627.7 1860.4,1627.8 1863.4,1628.0 1866.5,1628.2 1869.5,1628.4 1872.5,1628.5 1875.5,1628.7 1878.5,1628.9 1881.5,1629.1 1884.5,1629.2 1887.5,1629.4 1890.5,1629.6 1893.5,1629.8 1896.5,1629.9 1899.5,1630.1 1902.6,1630.3 1905.6,1630.5 1908.6,1630.6 1911.6,1630.8 1914.6,1631.0 1917.6,1631.1 1920.6,1631.3 1923.6,1631.5 1926.6,1631.6 1929.6,1631.8 1932.6,1632.0 1935.7,1632.2 1938.7,1632.3 1941.7,1632.5 1944.7,1632.7 1947.7,1632.8 1950.7,1633.0 1953.7,1633.2 1956.7,1633.3 1959.7,1633.5 1962.7,1633.7 1965.8,1633.8 1968.8,1634.0 1971.8,1634.2 1974.8,1634.4 1977.8,1634.5 1980.8,1634.7 1983.8,1634.9 1986.8,1635.0 1989.8,1635.2 1992.8,1635.4 1995.8,1635.5 1998.9,1635.7 2001.9,1635.8 2004.9,1636.0 2007.9,1636.2 2010.9,1636.3 2013.9,1636.5 2016.9,1636.7 2019.9,1636.8 2022.9,1637.0 2025.9,1637.1 2028.9,1637.3 2032.0,1637.5 2035.0,1637.6 2038.0,1637.8 2041.0,1637.9 2044.0,1638.1 2047.0,1638.2 2050.0,1638.4 2053.0,1638.5 2056.0,1638.7 2059.0,1638.8 2062.1,1639.0 2065.1,1639.1 2068.1,1639.3 2071.1,1639.4 2074.1,1639.6 2077.1,1639.7 2080.1,1639.9 2083.1,1640.0 2086.1,1640.2 2089.2,1640.3 2092.2,1640.4 2095.2,1640.6 2098.2,1640.7 2101.2,1640.9 2104.2,1641.0 2107.2,1641.1 2110.2,1641.3 2113.2,1641.4 2116.2,1641.5 2119.3,1641.7 2122.3,1641.8 2125.3,1642.0 2128.3,1642.1 2131.3,1642.2 2134.3,1642.4 2137.3,1642.5 2140.3,1642.6 2143.3,1642.7 2146.4,1642.9 2149.4,1643.0 2152.4,1643.1 2155.4,1643.3 2158.4,1643.4 2161.4,1643.5 2164.4,1643.6 2167.4,1643.8 2170.4,1643.9 2173.5,1644.0 2176.5,1644.2 2179.5,1644.3 2182.5,1644.4 2185.5,1644.5 2188.5,1644.6 2191.5,1644.8 2194.5,1644.9 2197.6,1645.0 2200.6,1645.1 2203.6,1645.3 2206.6,1645.4 2209.6,1645.5 2212.6,1645.6 2215.6,1645.7 2218.6,1645.9 2221.6,1646.0 2224.7,1646.1 2227.7,1646.2 2230.7,1646.3 2233.7,1646.4 2236.7,1646.6 2239.7,1646.7 2242.7,1646.8 2245.7,1646.9 2248.7,1647.0 2251.8,1647.1 2254.8,1647.2 2257.8,1647.4 2260.8,1647.5 2263.8,1647.6 2266.8,1647.7 2269.8,1647.8 2272.8,1647.9 2275.9,1648.0 2278.9,1648.1 2281.9,1648.2 2284.9,1648.4 2287.9,1648.5 2290.9,1648.6 2293.9,1648.7 2296.9,1648.8 2300.0,1648.9 2303.0,1649.0 2306.0,1649.1 2309.0,1649.2 2312.0,1649.3" fill="none" stroke="#0000ff" stroke-width="4" stroke-linejoin="round"/>
<polyline points="443.8,589.0 444.2,592.0 444.6,595.0 445.1,597.9 445.5,600.9 445.9,603.9 446.3,606.9 446.7,609.8 447.2,612.8 447.6,615.8 448.0,618.8 448.4,621.7 448.8,624.7 449.2,627.7 449.6,630.7 450.1,633.6 450.5,636.6 450.9,639.6 451.3,642.6 451.7,645.5 452.1,648.5 452.5,651.5 453.0,654.5 453.4,657.4 453.8,660.4 454.2,663.4 454.6,666.4 455.0,669.4 455.4,672.3 455.8,675.3 456.2,678.3 456.6,681.3 457.1,684.2 457.5,687.2 457.9,690.2 458.3,693.2 458.7,696.1 459.1,699.1 459.5,702.1 459.9,705.1 460.3,708.1 460.7,711.0 461.1,714.0 461.5,717.0 461.9,720.0 462.3,722.9 462.7,725.9 463.1,728.9 463.5,731.9 463.9,734.9 464.3,737.8 464.7,740.8 465.0,743.8 465.4,746.8 465.8,749.8 466.2,752.7 466.6,755.7 467.0,758.7 467.4,761.7 467.8,764.7 468.2,767.6 468.6,770.6 468.9,773.6 469.3,776.6 469.7,779.6 470.1,782.5 470.5,785.5 470.9,788.5 471.3,791.5 471.7,794.5 472.0,797.4 472.4,800.4 472.8,803.4 473.2,806.4 473.6,809.4 474.0,812.3 474.4,815.3 474.8,818.3 475.1,821.3 475.5,824.3 475.9,827.2 476.3,830.2 476.7,833.2 477.1,836.2 477.5,839.2 477.9,842.1 478.3,845.1 478.7,848.1 479.0,851.1 479.4,854.0 479.8,857.0 480.2,860.0 480.6,863.0 481.0,866.0 481.4,868.9 481.8,871.9 482.2,874.9 482.6,877.9 483.0,880.9 483.4,883.8 483.8,886.8 484.2,889.8 484.6,892.8 485.0,895.7 485.4,898.7 485.8,901.7 486.2,904.7 486.6,907.7 487.1,910.6 487.5,913.6 487.9,916.6 488.3,919.6 488.7,922.5 489.1,925.5 489.5,928.5 489.9,931.5 490.3,934.4 490.7,937.4 491.1,940.4 491.5,943.4 491.9,946.4 492.4,949.3 492.8,952.3 493.2,955.3 493.6,958.3 494.0,961.2 494.4,964.2 494.8,967.2 495.2,970.2 495.6,973.1 496.0,976.1 496.5,979.1 496.9,982.1 497.3,985.1 497.7,988.0 498.1,991.0 498.5,994.0 499.0,997.0 499.4,999.9 499.8,1002.9 500.2,1005.9 500.6,1008.9 501.0,1011.8 501.5,1014.8 501.9,1017.8 502.3,1020.8 502.7,1023.7 503.2,1026.7 503.6,1029.7 504.0,1032.7 504.4,1035.6 504.9,1038.6 505.3,1041.6 505.7,1044.6 506.1,1047.5 506.6,1050.5 507.0,1053.5 507.4,1056.5 507.9,1059.4 508.3,1062.4 508.7,1065.4 509.2,1068.3 509.6,1071.3 510.1,1074.3 510.5,1077.3 510.9,1080.2 511.4,1083.2 511.8,1086.2 512.3,1089.2 512.7,1092.1 513.2,1095.1 513.6,1098.1 514.1,1101.0 514.5,1104.0 515.0,1107.0 515.4,1109.9 515.9,1112.9 516.3,1115.9 516.8,1118.9 517.2,1121.8 517.7,1124.8 518.2,1127.8 518.6,1130.7 519.1,1133.7 519.6,1136.7 520.0,1139.6 520.5,1142.6 521.0,1145.6 521.4,1148.5 521.9,1151.5 522.4,1154.5 522.9,1157.4 523.3,1160.4 523.8,1163.4 524.3,1166.3 524.8,1169.3 525.3,1172.3 525.7,1175.2 526.2,1178.2 526.7,1181.2 527.2,1184.1 527.7,1187.1 528.2,1190.1 528.6,1193.0 529.1,1196.0 529.6,1199.0 530.1,1201.9 530.6,1204.9 531.1,1207.9 531.6,1210.8 532.1,1213.8 532.6,1216.8 533.1,1219.7 533.6,1222.7 534.1,1225.6 534.5,1228.6 535.0,1231.6 535.5,1234.5 536.0,1237.5 536.5,1240.5 537.0,1243.4 537.5,1246.4 538.0,1249.4 538.5,1252.3 539.0,1255.3 539.5,1258.2 540.0,1261.2 540.5,1264.2 541.0,1267.1 541.5,1270.1 542.0,1273.1 542.5,1276.0 543.0,1279.0 543.5,1281.9 544.0,1284.9 544.5,1287.9 545.1,1290.8 545.6,1293.8 546.1,1296.8 546.6,1299.7 547.1,1302.7 547.6,1305.6 548.2,1308.6 548.7,1311.6 549.2,1314.5 549.7,1317.5 550.2,1320.4 550.8,1323.4 551.3,1326.3 551.8,1329.3 552.4,1332.3 552.9,1335.2 553.4,1338.2 554.0,1341.1 554.5,1344.1 555.1,1347.0 555.6,1350.0 556.1,1353.0 556.7,1355.9 557.2,1358.9 557.7,1361.8 558.3,1364.8 558.8,1367.7 559.3,1370.7 559.9,1373.7 560.4,1376.6 560.9,1379.6 561.4,1382.5 561.9,1385.5 562.4,1388.5 562.9,1391.4 563.5,1394.4 564.0,1397.3 564.5,1400.3 565.1,1403.3 565.7,1406.2 566.2,1409.1 566.8,1412.1 567.4,1415.0 568.0,1418.0 568.7,1420.9 569.3,1423.9 569.9,1426.8 570.6,1429.7 571.3,1432.7 571.9,1435.6 572.6,1438.5 573.3,1441.4 573.9,1444.4 574.6,1447.3 575.3,1450.2 576.0,1453.2 576.6,1456.1 577.3,1459.0 577.9,1462.0 578.6,1464.9 579.2,1467.9 579.8,1470.8 580.5,1473.8 581.2,1476.7 581.9,1479.6 582.6,1482.5 583.3,1485.4 584.1,1488.3 584.9,1491.2 585.7,1494.1 586.6,1496.9 587.5,1499.8 588.5,1502.6 589.6,1505.5 590.7,1508.3 591.8,1511.1 593.0,1513.9 594.3,1516.6 595.6,1519.3 596.9,1522.0 598.3,1524.6 599.9,1527.2 601.5,1529.7 603.2,1532.2 605.0,1534.6 606.8,1537.0 608.8,1539.5 610.8,1541.7 613.0,1543.6 615.4,1545.3 618.1,1547.0 620.9,1548.5 623.7,1549.4 626.6,1549.6 629.6,1549.3 632.6,1548.7 635.6,1548.0 638.4,1547.1 641.0,1545.9 643.6,1544.3 646.1,1542.4 648.5,1540.5 650.9,1538.7 653.2,1536.8 655.5,1534.8 657.7,1532.8 659.9,1530.8 662.1,1528.7 664.4,1526.7 666.6,1524.7 668.8,1522.7 671.0,1520.6 673.3,1518.6 675.5,1516.6 677.7,1514.6 680.0,1512.7 682.4,1510.8 684.7,1508.9 687.1,1507.1 689.5,1505.3 692.0,1503.5 694.4,1501.8 696.8,1500.0 699.3,1498.2 701.7,1496.5 704.1,1494.7 706.5,1492.9 709.0,1491.2 711.5,1489.5 714.0,1487.8 716.5,1486.3 719.1,1484.7 721.7,1483.2 724.3,1481.7 727.0,1480.3 729.7,1478.9 732.4,1477.7 735.2,1476.6 738.0,1475.6 740.9,1474.7 743.7,1473.7 746.6,1472.8 749.5,1471.9 752.3,1470.8 755.1,1469.7 757.9,1468.6 760.8,1467.5 763.6,1466.6 766.5,1466.0 769.4,1465.5 772.4,1465.1 775.4,1464.6 778.4,1464.3 781.4,1463.9 784.4,1463.7 787.4,1463.5 790.4,1463.3 793.4,1463.3 796.4,1463.4 799.4,1463.5 802.4,1463.7 805.4,1463.9 808.4,1464.2 811.4,1464.5 814.4,1464.8 817.4,1465.2 820.4,1465.5 823.3,1465.9 826.3,1466.3 829.3,1466.8 832.2,1467.3 835.2,1467.9 838.1,1468.5 841.1,1469.1 844.0,1469.8 847.0,1470.5 849.9,1471.2 852.8,1471.9 855.7,1472.6 858.7,1473.3 861.6,1474.0 864.5,1474.8 867.3,1475.6 870.2,1476.5 873.1,1477.4 876.0,1478.3 878.8,1479.2 881.7,1480.1 884.5,1481.1 887.4,1482.0 890.3,1483.0 893.1,1483.9 896.0,1484.9 898.8,1485.8 901.7,1486.8 904.5,1487.7 907.4,1488.7 910.2,1489.7 913.0,1490.7 915.9,1491.7 918.7,1492.7 921.5,1493.7 924.4,1494.7 927.2,1495.7 930.0,1496.7 932.9,1497.7 935.7,1498.7 938.5,1499.7 941.4,1500.6 944.2,1501.6 947.1,1502.6 949.9,1503.6 952.7,1504.6 955.6,1505.6 958.4,1506.6 961.2,1507.6 964.1,1508.6 966.9,1509.6 969.7,1510.6 972.6,1511.6 975.4,1512.6 978.2,1513.6 981.1,1514.6 983.9,1515.7 986.7,1516.7 989.5,1517.7 992.4,1518.7 995.2,1519.7 998.0,1520.7 1000.9,1521.7 1003.7,1522.7 1006.5,1523.7 1009.4,1524.7 1012.2,1525.7 1015.1,1526.7 1017.9,1527.6 1020.7,1528.6 1023.6,1529.6 1026.4,1530.5 1029.3,1531.5 1032.1,1532.4 1035.0,1533.4 1037.8,1534.3 1040.7,1535.3 1043.6,1536.2 1046.4,1537.1 1049.3,1538.0 1052.1,1538.9 1055.0,1539.8 1057.9,1540.7 1060.8,1541.6 1063.6,1542.5 1066.5,1543.3 1069.4,1544.2 1072.3,1545.0 1075.2,1545.9 1078.0,1546.7 1080.9,1547.5 1083.8,1548.3 1086.7,1549.1 1089.6,1549.9 1092.5,1550.7 1095.4,1551.5 1098.3,1552.3 1101.2,1553.1 1104.1,1553.9 1107.0,1554.6 1109.9,1555.4 1112.8,1556.2 1115.7,1556.9 1118.7,1557.7 1121.6,1558.4 1124.5,1559.1 1127.4,1559.9 1130.3,1560.6 1133.2,1561.3 1136.1,1562.0 1139.1,1562.8 1142.0,1563.5 1144.9,1564.2 1147.8,1564.9 1150.7,1565.7 1153.6,1566.4 1156.6,1567.2 1159.5,1567.9 1162.4,1568.6 1165.3,1569.4 1168.2,1570.1 1171.1,1570.8 1174.1,1571.6 1177.0,1572.3 1179.9,1573.0 1182.8,1573.7 1185.7,1574.4 1188.7,1575.1 1191.6,1575.8 1194.5,1576.5 1197.4,1577.2 1200.4,1577.8 1203.3,1578.5 1206.2,1579.1 1209.2,1579.8 1212.1,1580.4 1215.1,1581.0 1218.0,1581.5 1220.9,1582.1 1223.9,1582.6 1226.8,1583.2 1229.8,1583.7 1232.8,1584.3 1235.7,1584.8 1238.7,1585.3 1241.6,1585.8 1244.6,1586.3 1247.6,1586.8 1250.5,1587.3 1253.5,1587.8 1256.4,1588.3 1259.4,1588.8 1262.4,1589.2 1265.4,1589.7 1268.3,1590.2 1271.3,1590.6 1274.3,1591.1 1277.3,1591.5 1280.2,1592.0 1283.2,1592.4 1286.2,1592.8 1289.2,1593.3 1292.1,1593.7 1295.1,1594.1 1298.1,1594.5 1301.1,1594.9 1304.0,1595.3 1307.0,1595.7 1310.0,1596.1 1313.0,1596.5 1316.0,1596.9 1318.9,1597.3 1321.9,1597.7 1324.9,1598.1 1327.9,1598.5 1330.9,1598.9 1333.8,1599.2 1336.8,1599.6 1339.8,1600.0 1342.8,1600.4 1345.8,1600.7 1348.7,1601.1 1351.7,1601.5 1354.7,1601.8 1357.7,1602.2 1360.7,1602.5 1363.7,1602.9 1366.7,1603.2 1369.6,1603.5 1372.6,1603.9 1375.6,1604.2 1378.6,1604.5 1381.6,1604.8 1384.6,1605.1 1387.6,1605.4 1390.6,1605.7 1393.6,1606.0 1396.6,1606.3 1399.5,1606.6 1402.5,1606.8 1405.5,1607.1 1408.5,1607.3 1411.5,1607.6 1414.5,1607.8 1417.5,1608.1 1420.5,1608.3 1423.5,1608.5 1426.5,1608.8 1429.5,1609.0 1432.5,1609.2 1435.5,1609.4 1438.5,1609.6 1441.5,1609.8 1444.5,1610.1 1447.5,1610.3 1450.5,1610.5 1453.5,1610.7 1456.5,1610.9 1459.5,1611.1 1462.5,1611.2 1465.5,1611.4 1468.4,1611.6 1471.4,1611.8 1474.4,1612.0 1477.4,1612.2 1480.4,1612.4 1483.4,1612.6 1486.5,1612.7 1489.5,1612.9 1492.5,1613.1 1495.5,1613.3 1498.5,1613.5 1501.5,1613.6 1504.5,1613.8 1507.5,1614.0 1510.5,1614.2 1513.5,1614.4 1516.5,1614.5 1519.5,1614.7 1522.5,1614.9 1525.5,1615.1 1528.5,1615.3 1531.5,1615.5 1534.5,1615.6 1537.5,1615.8 1540.5,1616.0 1543.5,1616.2 1546.4,1616.4 1549.4,1616.6 1552.4,1616.8 1555.4,1617.0 1558.4,1617.2 1561.4,1617.4 1564.4,1617.6 1567.4,1617.8 1570.4,1618.0 1573.4,1618.2 1576.4,1618.4 1579.4,1618.6 1582.4,1618.8 1585.4,1619.0 1588.4,1619.2 1591.4,1619.4 1594.4,1619.6 1597.4,1619.7 1600.4,1619.9 1603.4,1620.1 1606.4,1620.3 1609.4,1620.5 1612.4,1620.7 1615.4,1620.9 1618.4,1621.1 1621.4,1621.3 1624.4,1621.5 1627.4,1621.6 1630.4,1621.8 1633.4,1622.0 1636.4,1622.2 1639.4,1622.4 1642.4,1622.5 1645.4,1622.7 1648.4,1622.9 1651.4,1623.1 1654.4,1623.2 1657.4,1623.4 1660.4,1623.6 1663.4,1623.7 1666.4,1623.9 1669.4,1624.1 1672.4,1624.2 1675.4,1624.4 1678.4,1624.5 1681.4,1624.7 1684.4,1624.8 1687.4,1625.0 1690.4,1625.1 1693.4,1625.2 1696.4,1625.4 1699.4,1625.5 1702.4,1625.7 1705.4,1625.8 1708.4,1625.9 1711.4,1626.1 1714.4,1626.2 1717.4,1626.3 1720.4,1626.5 1723.4,1626.6 1726.4,1626.7 1729.4,1626.8 1732.4,1627.0 1735.4,1627.1 1738.4,1627.2 1741.5,1627.3 1744.5,1627.5 1747.5,1627.6 1750.5,1627.7 1753.5,1627.8 1756.5,1628.0 1759.5,1628.1 1762.5,1628.2 1765.5,1628.3 1768.5,1628.5 1771.5,1628.6 1774.5,1628.7 1777.5,1628.8 1780.5,1629.0 1783.5,1629.1 1786.5,1629.2 1789.5,1629.3 1792.5,1629.5 1795.5,1629.6 1798.5,1629.7 1801.5,1629.9 1804.5,1630.0 1807.5,1630.1 1810.5,1630.3 1813.5,1630.4 1816.5,1630.5 1819.5,1630.7 1822.5,1630.8 1825.5,1630.9 1828.5,1631.1 1831.5,1631.2 1834.5,1631.3 1837.5,1631.5 1840.5,1631.6 1843.5,1631.7 1846.5,1631.9 1849.5,1632.0 1852.5,1632.1 1855.5,1632.3 1858.5,1632.4 1861.5,1632.5 1864.5,1632.7 1867.5,1632.8 1870.5,1632.9 1873.5,1633.1 1876.5,1633.2 1879.5,1633.4 1882.5,1633.5 1885.6,1633.6 1888.6,1633.8 1891.6,1633.9 1894.6,1634.0 1897.6,1634.2 1900.6,1634.3 1903.6,1634.4 1906.6,1634.6 1909.6,1634.7 1912.6,1634.8 1915.6,1634.9 1918.6,1635.1 1921.6,1635.2 1924.6,1635.3 1927.6,1635.5 1930.6,1635.6 1933.6,1635.7 1936.6,1635.9 1939.6,1636.0 1942.6,1636.1 1945.6,1636.2 1948.6,1636.4 1951.6,1636.5 1954.6,1636.6 1957.6,1636.8 1960.6,1636.9 1963.6,1637.0 1966.6,1637.1 1969.6,1637.3 1972.6,1637.4 1975.6,1637.5 1978.6,1637.7 1981.6,1637.8 1984.6,1637.9 1987.6,1638.0 1990.6,1638.2 1993.6,1638.3 1996.6,1638.4 1999.6,1638.6 2002.6,1638.7 2005.6,1638.8 2008.6,1638.9 2011.6,1639.1 2014.6,1639.2 2017.6,1639.3 2020.6,1639.4 2023.6,1639.6 2026.7,1639.7 2029.7,1639.8 2032.7,1639.9 2035.7,1640.0 2038.7,1640.2 2041.7,1640.3 2044.7,1640.4 2047.7,1640.5 2050.7,1640.6 2053.7,1640.7 2056.7,1640.8 2059.7,1641.0 2062.7,1641.1 2065.7,1641.2 2068.7,1641.3 2071.7,1641.4 2074.7,1641.5 2077.7,1641.6 2080.7,1641.7 2083.7,1641.8 2086.7,1641.9 2089.7,1642.0 2092.7,1642.1 2095.7,1642.2 2098.7,1642.3 2101.7,1642.4 2104.7,1642.5 2107.7,1642.6 2110.7,1642.7 2113.7,1642.8 2116.7,1642.9 2119.7,1642.9 2122.7,1643.0 2125.8,1643.1 2128.8,1643.2 2131.8,1643.3 2134.8,1643.4 2137.8,1643.5 2140.8,1643.6 2143.8,1643.7 2146.8,1643.8 2149.8,1643.8 2152.8,1643.9 2155.8,1644.0 2158.8,1644.1 2161.8,1644.2 2164.8,1644.3 2167.8,1644.3 2170.8,1644.4 2173.8,1644.5 2176.8,1644.6 2179.8,1644.7 2182.8,1644.7 2185.8,1644.8 2188.8,1644.9 2191.8,1645.0 2194.8,1645.1 2197.8,1645.1 2200.8,1645.2 2203.8,1645.3 2206.9,1645.4 2209.9,1645.4 2212.9,1645.5 2215.9,1645.6 2218.9,1645.6 2221.9,1645.7 2224.9,1645.8 2227.9,1645.9 2230.9,1645.9 2233.9,1646.0 2236.9,1646.1 2239.9,1646.1 2242.9,1646.2 2245.9,1646.3 2248.9,1646.3 2251.9,1646.4 2254.9,1646.5 2257.9,1646.5 2260.9,1646.6 2263.9,1646.7 2266.9,1646.7 2269.9,1646.8 2272.9,1646.9 2275.9,1646.9 2279.0,1647.0 2282.0,1647.0 2285.0,1647.1 2288.0,1647.2 2291.0,1647.2 2294.0,1647.3 2297.0,1647.3 2300.0,1647.4 2303.0,1647.4 2306.0,1647.5 2309.0,1647.5 2312.0,1647.6" fill="none" stroke="#ff00ff" stroke-width="4" stroke-linejoin="round"/>
<polyline points="1219.4,1572.6 1222.4,1573.0 1225.4,1573.4 1228.4,1573.7 1231.3,1574.1 1234.3,1574.5 1237.3,1574.8 1240.3,1575.2 1243.3,1575.6 1246.3,1576.0 1249.3,1576.3 1252.3,1576.7 1255.2,1577.1 1258.2,1577.4 1261.2,1577.8 1264.2,1578.2 1267.2,1578.5 1270.2,1578.9 1273.2,1579.3 1276.2,1579.7 1279.1,1580.0 1282.1,1580.4 1285.1,1580.7 1288.1,1581.1 1291.1,1581.5 1294.1,1581.8 1297.1,1582.2 1300.1,1582.6 1303.0,1582.9 1306.0,1583.3 1309.0,1583.7 1312.0,1584.0 1315.0,1584.4 1318.0,1584.8 1321.0,1585.1 1324.0,1585.5 1326.9,1585.9 1329.9,1586.3 1332.9,1586.6 1335.9,1587.0 1338.9,1587.3 1341.9,1587.7 1344.9,1588.1 1347.9,1588.4 1350.9,1588.7 1353.8,1589.1 1356.8,1589.4 1359.8,1589.8 1362.8,1590.1 1365.8,1590.4 1368.8,1590.7 1371.8,1591.0 1374.8,1591.3 1377.8,1591.6 1380.8,1591.9 1383.8,1592.2 1386.8,1592.5 1389.8,1592.8 1392.8,1593.1 1395.8,1593.4 1398.8,1593.7 1401.8,1594.0 1404.8,1594.2 1407.7,1594.5 1410.7,1594.8 1413.7,1595.1 1416.7,1595.4 1419.7,1595.6 1422.7,1595.9 1425.7,1596.2 1428.7,1596.4 1431.7,1596.7 1434.7,1597.0 1437.7,1597.2 1440.7,1597.5 1443.7,1597.8 1446.7,1598.0 1449.7,1598.3 1452.7,1598.6 1455.7,1598.8 1458.7,1599.1 1461.7,1599.4 1464.7,1599.6 1467.7,1599.9 1470.7,1600.2 1473.7,1600.4 1476.7,1600.7 1479.7,1600.9 1482.7,1601.2 1485.7,1601.5 1488.7,1601.7 1491.7,1602.0 1494.7,1602.2 1497.7,1602.5 1500.7,1602.7 1503.7,1603.0 1506.7,1603.2 1509.7,1603.5 1512.7,1603.7 1515.7,1604.0 1518.7,1604.2 1521.7,1604.5 1524.7,1604.7 1527.7,1605.0 1530.7,1605.2 1533.7,1605.5 1536.7,1605.7 1539.7,1606.0 1542.7,1606.2 1545.7,1606.5 1548.7,1606.7 1551.7,1607.0 1554.7,1607.2 1557.7,1607.5 1560.7,1607.7 1563.7,1608.0 1566.7,1608.2 1569.7,1608.5 1572.7,1608.8 1575.7,1609.0 1578.7,1609.3 1581.7,1609.5 1584.7,1609.8 1587.7,1610.0 1590.7,1610.3 1593.7,1610.5 1596.7,1610.8 1599.7,1611.0 1602.7,1611.3 1605.7,1611.5 1608.7,1611.8 1611.7,1612.0 1614.7,1612.3 1617.7,1612.5 1620.7,1612.8 1623.7,1613.0 1626.7,1613.3 1629.7,1613.5 1632.7,1613.8 1635.7,1614.0 1638.7,1614.2 1641.7,1614.5 1644.7,1614.7 1647.7,1614.9 1650.7,1615.2 1653.7,1615.4 1656.7,1615.6 1659.7,1615.9 1662.7,1616.1 1665.7,1616.3 1668.7,1616.5 1671.7,1616.8 1674.7,1617.0 1677.7,1617.2 1680.7,1617.4 1683.7,1617.6 1686.7,1617.8 1689.7,1618.0 1692.7,1618.3 1695.7,1618.5 1698.7,1618.7 1701.7,1618.9 1704.7,1619.1 1707.7,1619.3 1710.7,1619.5 1713.7,1619.7 1716.7,1619.9 1719.7,1620.1 1722.7,1620.3 1725.7,1620.5 1728.8,1620.7 1731.8,1620.9 1734.8,1621.1 1737.8,1621.3 1740.8,1621.5 1743.8,1621.7 1746.8,1621.9 1749.8,1622.1 1752.8,1622.3 1755.8,1622.4 1758.8,1622.6 1761.8,1622.8 1764.8,1623.0 1767.8,1623.2 1770.8,1623.4 1773.8,1623.6 1776.8,1623.8 1779.8,1624.0 1782.8,1624.1 1785.8,1624.3 1788.8,1624.5 1791.8,1624.7 1794.8,1624.9 1797.8,1625.1 1800.8,1625.3 1803.9,1625.5 1806.9,1625.6 1809.9,1625.8 1812.9,1626.0 1815.9,1626.2 1818.9,1626.4 1821.9,1626.6 1824.9,1626.8 1827.9,1626.9 1830.9,1627.1 1833.9,1627.3 1836.9,1627.5 1839.9,1627.7 1842.9,1627.9 1845.9,1628.0 1848.9,1628.2 1851.9,1628.4 1854.9,1628.6 1857.9,1628.8 1860.9,1628.9 1863.9,1629.1 1866.9,1629.3 1870.0,1629.5 1873.0,1629.7 1876.0,1629.8 1879.0,1630.0 1882.0,1630.2 1885.0,1630.4 1888.0,1630.5 1891.0,1630.7 1894.0,1630.9 1897.0,1631.1 1900.0,1631.2 1903.0,1631.4 1906.0,1631.6 1909.0,1631.7 1912.0,1631.9 1915.0,1632.1 1918.0,1632.2 1921.0,1632.4 1924.0,1632.6 1927.0,1632.7 1930.1,1632.9 1933.1,1633.0 1936.1,1633.2 1939.1,1633.4 1942.1,1633.5 1945.1,1633.7 1948.1,1633.8 1951.1,1634.0 1954.1,1634.1 1957.1,1634.3 1960.1,1634.4 1963.1,1634.6 1966.1,1634.7 1969.1,1634.9 1972.1,1635.0 1975.1,1635.1 1978.2,1635.3 1981.2,1635.4 1984.2,1635.6 1987.2,1635.7 1990.2,1635.9 1993.2,1636.0 1996.2,1636.1 1999.2,1636.3 2002.2,1636.4 2005.2,1636.5 2008.2,1636.7 2011.2,1636.8 2014.2,1637.0 2017.2,1637.1 2020.3,1637.2 2023.3,1637.4 2026.3,1637.5 2029.3,1637.6 2032.3,1637.8 2035.3,1637.9 2038.3,1638.0 2041.3,1638.2 2044.3,1638.3 2047.3,1638.4 2050.3,1638.6 2053.3,1638.7 2056.3,1638.8 2059.3,1638.9 2062.4,1639.1 2065.4,1639.2 2068.4,1639.3 2071.4,1639.5 2074.4,1639.6 2077.4,1639.7 2080.4,1639.8 2083.4,1640.0 2086.4,1640.1 2089.4,1640.2 2092.4,1640.4 2095.4,1640.5 2098.4,1640.6 2101.4,1640.7 2104.5,1640.9 2107.5,1641.0 2110.5,1641.1 2113.5,1641.2 2116.5,1641.4 2119.5,1641.5 2122.5,1641.6 2125.5,1641.7 2128.5,1641.8 2131.5,1642.0 2134.5,1642.1 2137.5,1642.2 2140.5,1642.3 2143.6,1642.4 2146.6,1642.6 2149.6,1642.7 2152.6,1642.8 2155.6,1642.9 2158.6,1643.0 2161.6,1643.2 2164.6,1643.3 2167.6,1643.4 2170.6,1643.5 2173.6,1643.6 2176.6,1643.7 2179.6,1643.9 2182.7,1644.0 2185.7,1644.1 2188.7,1644.2 2191.7,1644.3 2194.7,1644.4 2197.7,1644.5 2200.7,1644.7 2203.7,1644.8 2206.7,1644.9 2209.7,1645.0 2212.7,1645.1 2215.7,1645.2 2218.7,1645.3 2221.8,1645.4 2224.8,1645.5 2227.8,1645.7 2230.8,1645.8 2233.8,1645.9 2236.8,1646.0 2239.8,1646.1 2242.8,1646.2 2245.8,1646.3 2248.8,1646.4 2251.8,1646.5 2254.8,1646.6 2257.9,1646.7 2260.9,1646.8 2263.9,1647.0 2266.9,1647.1 2269.9,1647.2 2272.9,1647.3 2275.9,1647.4 2278.9,1647.5 2281.9,1647.6 2284.9,1647.7 2287.9,1647.8 2290.9,1647.9 2293.9,1648.0 2297.0,1648.1 2300.0,1648.2 2303.0,1648.3 2306.0,1648.4 2309.0,1648.5 2312.0,1648.6" fill="none" stroke="#008000" stroke-width="4" stroke-linejoin="round"/>
</g>
<g shape-rendering="crispEdges">
<rect x="1320" y="993" width="829" height="4" fill="#000"/>
<rect x="1320" y="1399" width="829" height="4" fill="#000"/>
<rect x="1320" y="993" width="4" height="410" fill="#000"/>
<rect x="2146" y="993" width="3" height="410" fill="#000"/>
<rect x="1404" y="1066" width="100" height="4" fill="#000000"/>
<rect x="1404" y="1143" width="100" height="4" fill="#ff0000"/>
<rect x="1404" y="1221" width="100" height="4" fill="#0000ff"/>
<rect x="1404" y="1291" width="100" height="3" fill="#ff00ff"/>
<rect x="1404" y="1345" width="100" height="4" fill="#008000"/>
</g>
<g shape-rendering="crispEdges">
<rect x="367" y="2069" width="1874" height="3" fill="#000"/>
<rect x="2238" y="2069" width="3" height="1542" fill="#000"/>
<rect x="363" y="2069" width="7" height="1571" fill="#000"/>
<rect x="338" y="3608" width="1900" height="7" fill="#000"/>
<rect x="338" y="3608" width="25" height="7" fill="#000"/>
<rect x="353" y="3498" width="10" height="7" fill="#000"/>
<rect x="338" y="3388" width="25" height="7" fill="#000"/>
<rect x="353" y="3277" width="10" height="7" fill="#000"/>
<rect x="338" y="3167" width="25" height="7" fill="#000"/>
<rect x="353" y="3057" width="10" height="7" fill="#000"/>
<rect x="338" y="2947" width="25" height="7" fill="#000"/>
<rect x="353" y="2837" width="10" height="7" fill="#000"/>
<rect x="338" y="2727" width="25" height="7" fill="#000"/>
<rect x="353" y="2617" width="10" height="7" fill="#000"/>
<rect x="338" y="2507" width="25" height="7" fill="#000"/>
<rect x="353" y="2397" width="10" height="7" fill="#000"/>
<rect x="338" y="2287" width="25" height="7" fill="#000"/>
<rect x="353" y="2177" width="10" height="7" fill="#000"/>
<rect x="338" y="2067" width="29" height="7" fill="#000"/>
<rect x="363" y="3615" width="7" height="25" fill="#000"/>
<rect x="448" y="3615" width="7" height="10" fill="#000"/>
<rect x="533" y="3615" width="7" height="25" fill="#000"/>
<rect x="618" y="3615" width="7" height="10" fill="#000"/>
<rect x="704" y="3615" width="7" height="25" fill="#000"/>
<rect x="789" y="3615" width="7" height="10" fill="#000"/>
<rect x="874" y="3615" width="7" height="25" fill="#000"/>
<rect x="959" y="3615" width="7" height="10" fill="#000"/>
<rect x="1044" y="3615" width="7" height="25" fill="#000"/>
<rect x="1129" y="3615" width="7" height="10" fill="#000"/>
<rect x="1214" y="3615" width="7" height="25" fill="#000"/>
<rect x="1300" y="3615" width="7" height="10" fill="#000"/>
<rect x="1385" y="3615" width="7" height="25" fill="#000"/>
<rect x="1470" y="3615" width="7" height="10" fill="#000"/>
<rect x="1555" y="3615" width="7" height="25" fill="#000"/>
<rect x="1640" y="3615" width="7" height="10" fill="#000"/>
<rect x="1725" y="3615" width="7" height="25" fill="#000"/>
<rect x="1810" y="3615" width="7" height="10" fill="#000"/>
<rect x="1895" y="3615" width="7" height="25" fill="#000"/>
<rect x="1981" y="3615" width="7" height="10" fill="#000"/>
<rect x="2066" y="3615" width="7" height="25" fill="#000"/>
<rect x="2151" y="3615" width="7" height="10" fill="#000"/>
<rect x="2236" y="3611" width="7" height="29" fill="#000"/>
</g>
<clipPath id="clip2"><rect x="363" y="2067" width="1878" height="1551"/></clipPath>
<g clip-path="url(#clip2)" shape-rendering="crispEdges">
<polyline points="525.8,2383.1 526.1,2386.1 526.5,2389.1 526.8,2392.1 527.1,2395.0 527.5,2398.0 527.8,2401.0 528.1,2404.0 528.5,2407.0 528.8,2410.0 529.2,2413.0 529.6,2415.9 529.9,2418.9 530.3,2421.9 530.7,2424.9 531.0,2427.9 531.4,2430.9 531.8,2433.8 532.2,2436.8 532.5,2439.8 532.9,2442.8 533.3,2445.7 533.7,2448.7 534.1,2451.7 534.5,2454.7 534.9,2457.7 535.3,2460.6 535.7,2463.6 536.1,2466.6 536.6,2469.6 537.0,2472.5 537.4,2475.5 537.8,2478.5 538.3,2481.4 538.7,2484.4 539.1,2487.4 539.6,2490.4 540.0,2493.3 540.5,2496.3 541.0,2499.3 541.4,2502.2 541.9,2505.2 542.4,2508.2 542.8,2511.1 543.3,2514.1 543.8,2517.1 544.3,2520.0 544.8,2523.0 545.3,2526.0 545.8,2528.9 546.3,2531.9 546.8,2534.8 547.3,2537.8 547.8,2540.8 548.3,2543.7 548.8,2546.7 549.3,2549.7 549.8,2552.6 550.3,2555.6 550.8,2558.5 551.3,2561.5 551.8,2564.5 552.3,2567.4 552.9,2570.4 553.4,2573.3 553.9,2576.3 554.4,2579.3 554.9,2582.2 555.4,2585.2 555.9,2588.1 556.4,2591.1 557.0,2594.1 557.5,2597.0 558.0,2600.0 558.6,2602.9 559.1,2605.9 559.7,2608.8 560.2,2611.8 560.7,2614.8 561.3,2617.7 561.8,2620.7 562.4,2623.6 562.9,2626.6 563.5,2629.5 564.0,2632.5 564.6,2635.4 565.1,2638.4 565.7,2641.3 566.2,2644.3 566.7,2647.3 567.3,2650.2 567.8,2653.2 568.3,2656.1 568.8,2659.1 569.3,2662.0 569.9,2665.0 570.4,2668.0 570.8,2670.9 571.3,2673.9 571.8,2676.9 572.3,2679.8 572.8,2682.8 573.2,2685.8 573.7,2688.7 574.1,2691.7 574.6,2694.7 575.0,2697.6 575.5,2700.6 575.9,2703.6 576.3,2706.6 576.8,2709.5 577.2,2712.5 577.6,2715.5 578.0,2718.4 578.4,2721.4 578.9,2724.4 579.3,2727.4 579.7,2730.4 580.1,2733.3 580.5,2736.3 580.9,2739.3 581.4,2742.3 581.8,2745.2 582.2,2748.2 582.6,2751.2 583.0,2754.2 583.4,2757.1 583.8,2760.1 584.3,2763.1 584.7,2766.1 585.1,2769.0 585.5,2772.0 586.0,2775.0 586.4,2778.0 586.8,2780.9 587.3,2783.9 587.7,2786.9 588.1,2789.8 588.6,2792.8 589.0,2795.8 589.5,2798.8 589.9,2801.7 590.3,2804.7 590.8,2807.7 591.2,2810.6 591.7,2813.6 592.1,2816.6 592.6,2819.6 593.0,2822.5 593.4,2825.5 593.9,2828.5 594.3,2831.4 594.8,2834.4 595.2,2837.4 595.7,2840.4 596.1,2843.3 596.6,2846.3 597.0,2849.3 597.5,2852.2 597.9,2855.2 598.4,2858.2 598.8,2861.2 599.3,2864.1 599.7,2867.1 600.2,2870.1 600.6,2873.0 601.1,2876.0 601.5,2879.0 602.0,2881.9 602.5,2884.9 602.9,2887.9 603.4,2890.8 603.8,2893.8 604.3,2896.8 604.8,2899.7 605.2,2902.7 605.7,2905.7 606.2,2908.7 606.6,2911.6 607.1,2914.6 607.6,2917.6 608.0,2920.5 608.5,2923.5 609.0,2926.5 609.4,2929.4 609.9,2932.4 610.4,2935.4 610.9,2938.3 611.3,2941.3 611.8,2944.3 612.3,2947.2 612.7,2950.2 613.2,2953.2 613.7,2956.1 614.2,2959.1 614.6,2962.1 615.1,2965.0 615.6,2968.0 616.1,2971.0 616.5,2973.9 617.0,2976.9 617.5,2979.9 618.0,2982.8 618.4,2985.8 618.9,2988.8 619.4,2991.7 619.8,2994.7 620.3,2997.7 620.8,3000.6 621.2,3003.6 621.7,3006.6 622.2,3009.5 622.6,3012.5 623.1,3015.5 623.6,3018.4 624.1,3021.4 624.5,3024.4 625.0,3027.3 625.5,3030.3 625.9,3033.3 626.4,3036.2 626.9,3039.2 627.4,3042.2 627.8,3045.1 628.3,3048.1 628.8,3051.1 629.3,3054.0 629.8,3057.0 630.3,3060.0 630.7,3062.9 631.2,3065.9 631.7,3068.9 632.2,3071.8 632.7,3074.8 633.2,3077.7 633.7,3080.7 634.2,3083.7 634.7,3086.6 635.2,3089.6 635.8,3092.5 636.3,3095.5 636.8,3098.5 637.3,3101.4 637.8,3104.4 638.3,3107.3 638.9,3110.3 639.4,3113.3 639.9,3116.2 640.5,3119.2 641.0,3122.1 641.5,3125.1 642.1,3128.0 642.6,3131.0 643.1,3133.9 643.7,3136.9 644.2,3139.9 644.7,3142.8 645.3,3145.8 645.8,3148.7 646.4,3151.7 646.9,3154.6 647.5,3157.6 648.0,3160.5 648.5,3163.5 649.1,3166.5 649.6,3169.4 650.2,3172.4 650.7,3175.3 651.3,3178.3 651.8,3181.2 652.4,3184.2 652.9,3187.1 653.5,3190.1 654.0,3193.0 654.5,3196.0 655.1,3199.0 655.6,3201.9 656.2,3204.9 656.7,3207.8 657.3,3210.8 657.8,3213.7 658.3,3216.7 658.9,3219.6 659.4,3222.6 660.0,3225.6 660.5,3228.5 661.1,3231.5 661.6,3234.4 662.2,3237.4 662.7,3240.3 663.3,3243.3 663.9,3246.2 664.4,3249.2 665.0,3252.1 665.6,3255.1 666.2,3258.0 666.8,3261.0 667.4,3263.9 668.0,3266.8 668.6,3269.8 669.2,3272.7 669.8,3275.7 670.4,3278.6 671.0,3281.5 671.7,3284.5 672.3,3287.4 673.0,3290.3 673.6,3293.3 674.3,3296.2 675.0,3299.1 675.7,3302.0 676.4,3305.0 677.1,3307.9 677.8,3310.8 678.5,3313.7 679.2,3316.6 679.9,3319.6 680.6,3322.5 681.4,3325.4 682.1,3328.3 682.8,3331.2 683.5,3334.1 684.3,3337.1 685.0,3340.0 685.7,3342.9 686.4,3345.8 687.1,3348.7 687.8,3351.7 688.5,3354.6 689.2,3357.5 689.9,3360.4 690.6,3363.4 691.3,3366.3 691.9,3369.2 692.6,3372.1 693.2,3375.1 693.9,3378.0 694.6,3380.9 695.3,3383.9 696.0,3386.8 696.7,3389.7 697.4,3392.6 698.1,3395.5 698.9,3398.4 699.6,3401.4 700.4,3404.3 701.1,3407.2 701.9,3410.1 702.7,3413.0 703.5,3415.9 704.4,3418.7 705.2,3421.6 706.1,3424.5 707.0,3427.4 707.9,3430.2 708.8,3433.1 709.8,3436.0 710.7,3438.8 711.7,3441.6 712.8,3444.5 713.8,3447.3 714.9,3450.1 716.0,3452.8 717.2,3455.6 718.4,3458.4 719.6,3461.1 720.9,3463.8 722.2,3466.6 723.5,3469.3 724.9,3471.9 726.2,3474.6 727.6,3477.3 729.1,3479.9 730.5,3482.6 732.0,3485.2 733.6,3487.8 735.2,3490.3 736.9,3492.8 738.6,3495.2 740.5,3497.6 742.4,3499.9 744.4,3502.2 746.5,3504.4 748.7,3506.3 751.1,3508.2 753.5,3510.0 756.1,3511.7 758.8,3513.2 761.6,3514.3 764.4,3515.1 767.3,3515.7 770.3,3516.2 773.3,3516.5 776.3,3516.7 779.3,3516.6 782.3,3516.3 785.3,3515.8 788.2,3515.2 791.2,3514.6 794.1,3514.0 797.1,3513.3 800.0,3512.6 802.9,3511.8 805.8,3511.0 808.6,3510.1 811.5,3509.2 814.4,3508.4 817.3,3507.6 820.2,3506.8 823.1,3506.0 826.0,3505.3 828.9,3504.5 831.8,3503.7 834.8,3503.0 837.7,3502.2 840.6,3501.6 843.5,3500.9 846.5,3500.3 849.4,3499.7 852.4,3499.2 855.3,3498.7 858.3,3498.2 861.3,3497.8 864.2,3497.3 867.2,3496.9 870.2,3496.5 873.2,3496.1 876.2,3495.8 879.1,3495.4 882.1,3495.0 885.1,3494.7 888.1,3494.3 891.1,3494.0 894.1,3493.7 897.1,3493.4 900.0,3493.1 903.0,3492.8 906.0,3492.6 909.0,3492.4 912.0,3492.3 915.0,3492.1 918.0,3491.9 921.0,3491.8 924.0,3491.6 927.0,3491.5 930.0,3491.4 933.0,3491.3 936.0,3491.3 939.0,3491.3 942.0,3491.4 945.0,3491.5 948.0,3491.6 951.0,3491.8 954.0,3492.0 957.0,3492.2 960.0,3492.4 963.0,3492.7 966.0,3492.9 969.0,3493.1 972.0,3493.3 975.0,3493.5 978.0,3493.7 981.0,3493.9 984.0,3494.2 987.0,3494.4 990.0,3494.7 993.0,3494.9 996.0,3495.2 999.0,3495.4 1002.0,3495.7 1005.0,3496.0 1008.0,3496.3 1010.9,3496.6 1013.9,3496.9 1016.9,3497.2 1019.9,3497.6 1022.9,3497.9 1025.9,3498.3 1028.9,3498.6 1031.8,3499.0 1034.8,3499.4 1037.8,3499.8 1040.8,3500.1 1043.8,3500.5 1046.7,3500.9 1049.7,3501.3 1052.7,3501.7 1055.7,3502.2 1058.6,3502.6 1061.6,3503.0 1064.6,3503.5 1067.6,3503.9 1070.5,3504.4 1073.5,3504.8 1076.5,3505.3 1079.4,3505.7 1082.4,3506.2 1085.4,3506.7 1088.3,3507.1 1091.3,3507.6 1094.3,3508.1 1097.2,3508.6 1100.2,3509.0 1103.2,3509.5 1106.1,3510.0 1109.1,3510.5 1112.1,3511.0 1115.0,3511.5 1118.0,3512.0 1120.9,3512.5 1123.9,3513.0 1126.9,3513.5 1129.8,3514.0 1132.8,3514.5 1135.8,3515.0 1138.7,3515.5 1141.7,3516.0 1144.6,3516.5 1147.6,3517.0 1150.6,3517.5 1153.5,3518.0 1156.5,3518.5 1159.4,3519.0 1162.4,3519.5 1165.4,3520.0 1168.3,3520.5 1171.3,3521.0 1174.3,3521.5 1177.2,3522.0 1180.2,3522.5 1183.1,3523.0 1186.1,3523.5 1189.1,3524.0 1192.0,3524.5 1195.0,3525.0 1198.0,3525.4 1200.9,3525.9 1203.9,3526.4 1206.9,3526.9 1209.8,3527.3 1212.8,3527.8 1215.8,3528.2 1218.7,3528.7 1221.7,3529.1 1224.7,3529.6 1227.7,3530.0 1230.6,3530.4 1233.6,3530.9 1236.6,3531.3 1239.6,3531.7 1242.5,3532.2 1245.5,3532.6 1248.5,3533.1 1251.4,3533.5 1254.4,3533.9 1257.4,3534.4 1260.4,3534.8 1263.3,3535.3 1266.3,3535.7 1269.3,3536.2 1272.2,3536.6 1275.2,3537.1 1278.2,3537.5 1281.1,3538.0 1284.1,3538.4 1287.1,3538.9 1290.1,3539.3 1293.0,3539.8 1296.0,3540.2 1299.0,3540.7 1301.9,3541.1 1304.9,3541.6 1307.9,3542.0 1310.9,3542.5 1313.8,3542.9 1316.8,3543.4 1319.8,3543.8 1322.7,3544.3 1325.7,3544.7 1328.7,3545.2 1331.6,3545.6 1334.6,3546.0 1337.6,3546.5 1340.6,3546.9 1343.5,3547.3 1346.5,3547.7 1349.5,3548.1 1352.5,3548.5 1355.5,3548.9 1358.4,3549.3 1361.4,3549.7 1364.4,3550.1 1367.4,3550.5 1370.3,3550.9 1373.3,3551.3 1376.3,3551.6 1379.3,3552.0 1382.3,3552.4 1385.2,3552.8 1388.2,3553.1 1391.2,3553.5 1394.2,3553.9 1397.2,3554.2 1400.2,3554.6 1403.1,3554.9 1406.1,3555.3 1409.1,3555.6 1412.1,3556.0 1415.1,3556.3 1418.1,3556.7 1421.0,3557.0 1424.0,3557.3 1427.0,3557.6 1430.0,3558.0 1433.0,3558.3 1436.0,3558.6 1439.0,3558.9 1442.0,3559.2 1444.9,3559.5 1447.9,3559.9 1450.9,3560.2 1453.9,3560.5 1456.9,3560.8 1459.9,3561.1 1462.9,3561.4 1465.9,3561.7 1468.9,3562.0 1471.8,3562.2 1474.8,3562.5 1477.8,3562.8 1480.8,3563.1 1483.8,3563.4 1486.8,3563.7 1489.8,3563.9 1492.8,3564.2 1495.8,3564.5 1498.8,3564.7 1501.8,3565.0 1504.8,3565.3 1507.7,3565.5 1510.7,3565.8 1513.7,3566.0 1516.7,3566.3 1519.7,3566.5 1522.7,3566.8 1525.7,3567.0 1528.7,3567.3 1531.7,3567.5 1534.7,3567.8 1537.7,3568.0 1540.7,3568.2 1543.7,3568.5 1546.7,3568.7 1549.7,3568.9 1552.7,3569.2 1555.7,3569.4 1558.7,3569.6 1561.7,3569.8 1564.6,3570.0 1567.6,3570.3 1570.6,3570.5 1573.6,3570.7 1576.6,3570.9 1579.6,3571.1 1582.6,3571.3 1585.6,3571.5 1588.6,3571.7 1591.6,3571.9 1594.6,3572.1 1597.6,3572.3 1600.6,3572.5 1603.6,3572.7 1606.6,3572.9 1609.6,3573.1 1612.6,3573.3 1615.6,3573.5 1618.6,3573.7 1621.6,3573.9 1624.6,3574.0 1627.6,3574.2 1630.6,3574.4 1633.6,3574.6 1636.6,3574.8 1639.6,3574.9 1642.6,3575.1 1645.6,3575.3 1648.6,3575.5 1651.6,3575.7 1654.6,3575.8 1657.6,3576.0 1660.6,3576.2 1663.6,3576.4 1666.6,3576.5 1669.6,3576.7 1672.6,3576.9 1675.6,3577.0 1678.6,3577.2 1681.6,3577.4 1684.6,3577.5 1687.6,3577.7 1690.6,3577.9 1693.6,3578.0 1696.6,3578.2 1699.6,3578.4 1702.6,3578.5 1705.6,3578.7 1708.6,3578.8 1711.6,3579.0 1714.6,3579.1 1717.6,3579.3 1720.6,3579.4 1723.6,3579.6 1726.6,3579.7 1729.6,3579.9 1732.6,3580.0 1735.6,3580.2 1738.6,3580.3 1741.6,3580.5 1744.6,3580.6 1747.6,3580.8 1750.6,3580.9 1753.6,3581.0 1756.6,3581.2 1759.6,3581.3 1762.6,3581.4 1765.6,3581.6 1768.6,3581.7 1771.6,3581.9 1774.6,3582.0 1777.6,3582.1 1780.6,3582.3 1783.6,3582.4 1786.6,3582.5 1789.6,3582.7 1792.6,3582.8 1795.6,3582.9 1798.6,3583.0 1801.6,3583.2 1804.6,3583.3 1807.6,3583.4 1810.6,3583.6 1813.6,3583.7 1816.6,3583.8 1819.6,3583.9 1822.6,3584.1 1825.6,3584.2 1828.6,3584.3 1831.6,3584.4 1834.6,3584.6 1837.6,3584.7 1840.6,3584.8 1843.6,3584.9 1846.6,3585.0 1849.6,3585.2 1852.6,3585.3 1855.6,3585.4 1858.6,3585.5 1861.6,3585.6 1864.6,3585.7 1867.6,3585.9 1870.6,3586.0 1873.6,3586.1 1876.7,3586.2 1879.7,3586.3 1882.7,3586.4 1885.7,3586.5 1888.7,3586.7 1891.7,3586.8 1894.7,3586.9 1897.7,3587.0 1900.7,3587.1 1903.7,3587.2 1906.7,3587.3 1909.7,3587.4 1912.7,3587.5 1915.7,3587.6 1918.7,3587.7 1921.7,3587.8 1924.7,3587.9 1927.7,3588.1 1930.7,3588.2 1933.7,3588.3 1936.7,3588.4 1939.7,3588.5 1942.7,3588.6 1945.7,3588.7 1948.7,3588.8 1951.7,3588.9 1954.7,3589.0 1957.7,3589.1 1960.7,3589.2 1963.7,3589.3 1966.7,3589.4 1969.7,3589.5 1972.7,3589.6 1975.7,3589.7 1978.7,3589.8 1981.7,3589.9 1984.7,3589.9 1987.7,3590.0 1990.7,3590.1 1993.7,3590.2 1996.7,3590.3 1999.7,3590.4 2002.7,3590.5 2005.8,3590.6 2008.8,3590.7 2011.8,3590.8 2014.8,3590.9 2017.8,3591.0 2020.8,3591.1 2023.8,3591.2 2026.8,3591.2 2029.8,3591.3 2032.8,3591.4 2035.8,3591.5 2038.8,3591.6 2041.8,3591.7 2044.8,3591.8 2047.8,3591.9 2050.8,3592.0 2053.8,3592.0 2056.8,3592.1 2059.8,3592.2 2062.8,3592.3 2065.8,3592.4 2068.8,3592.5 2071.8,3592.6 2074.8,3592.6 2077.8,3592.7 2080.8,3592.8 2083.8,3592.9 2086.8,3593.0 2089.8,3593.1 2092.8,3593.1 2095.8,3593.2 2098.8,3593.3 2101.8,3593.4 2104.8,3593.5 2107.9,3593.6 2110.9,3593.6 2113.9,3593.7 2116.9,3593.8 2119.9,3593.9 2122.9,3594.0 2125.9,3594.0 2128.9,3594.1 2131.9,3594.2 2134.9,3594.3 2137.9,3594.4 2140.9,3594.4 2143.9,3594.5 2146.9,3594.6 2149.9,3594.7 2152.9,3594.8 2155.9,3594.8 2158.9,3594.9 2161.9,3595.0 2164.9,3595.1 2167.9,3595.1 2170.9,3595.2 2173.9,3595.3 2176.9,3595.4 2179.9,3595.4 2182.9,3595.5 2185.9,3595.6 2188.9,3595.7 2191.9,3595.7 2194.9,3595.8 2197.9,3595.9 2200.9,3596.0 2204.0,3596.0 2207.0,3596.1 2210.0,3596.2 2213.0,3596.2 2216.0,3596.3 2219.0,3596.4 2222.0,3596.5 2225.0,3596.5 2228.0,3596.6 2231.0,3596.7 2234.0,3596.7 2237.0,3596.8 2240.0,3596.9 2243.0,3596.9 2246.0,3597.0" fill="none" stroke="#000000" stroke-width="4" stroke-linejoin="round"/>
<polyline points="506.5,2199.9 506.9,2202.9 507.3,2205.9 507.7,2208.8 508.2,2211.8 508.6,2214.8 509.0,2217.8 509.4,2220.7 509.8,2223.7 510.2,2226.7 510.6,2229.7 511.0,2232.7 511.4,2235.6 511.8,2238.6 512.2,2241.6 512.6,2244.6 513.0,2247.5 513.4,2250.5 513.8,2253.5 514.2,2256.5 514.6,2259.5 515.0,2262.4 515.4,2265.4 515.8,2268.4 516.2,2271.4 516.6,2274.4 517.0,2277.3 517.4,2280.3 517.8,2283.3 518.2,2286.3 518.5,2289.3 518.9,2292.2 519.3,2295.2 519.7,2298.2 520.1,2301.2 520.4,2304.2 520.8,2307.1 521.2,2310.1 521.6,2313.1 521.9,2316.1 522.3,2319.1 522.7,2322.1 523.0,2325.0 523.4,2328.0 523.8,2331.0 524.1,2334.0 524.5,2337.0 524.9,2340.0 525.2,2342.9 525.6,2345.9 525.9,2348.9 526.3,2351.9 526.7,2354.9 527.0,2357.9 527.4,2360.8 527.8,2363.8 528.1,2366.8 528.5,2369.8 528.9,2372.8 529.3,2375.8 529.6,2378.7 530.0,2381.7 530.4,2384.7 530.8,2387.7 531.2,2390.7 531.5,2393.7 531.9,2396.6 532.3,2399.6 532.7,2402.6 533.1,2405.6 533.5,2408.6 533.9,2411.5 534.3,2414.5 534.7,2417.5 535.0,2420.5 535.4,2423.5 535.8,2426.4 536.2,2429.4 536.6,2432.4 537.0,2435.4 537.4,2438.4 537.8,2441.3 538.2,2444.3 538.6,2447.3 539.0,2450.3 539.4,2453.3 539.8,2456.2 540.1,2459.2 540.5,2462.2 540.9,2465.2 541.3,2468.2 541.7,2471.1 542.1,2474.1 542.5,2477.1 542.9,2480.1 543.3,2483.1 543.7,2486.0 544.0,2489.0 544.4,2492.0 544.8,2495.0 545.2,2498.0 545.6,2500.9 546.0,2503.9 546.4,2506.9 546.8,2509.9 547.1,2512.9 547.5,2515.8 547.9,2518.8 548.3,2521.8 548.7,2524.8 549.1,2527.8 549.5,2530.7 549.8,2533.7 550.2,2536.7 550.6,2539.7 551.0,2542.7 551.4,2545.6 551.8,2548.6 552.2,2551.6 552.6,2554.6 553.0,2557.6 553.3,2560.5 553.7,2563.5 554.1,2566.5 554.5,2569.5 554.9,2572.5 555.3,2575.4 555.7,2578.4 556.1,2581.4 556.5,2584.4 556.9,2587.4 557.3,2590.3 557.7,2593.3 558.1,2596.3 558.5,2599.3 558.8,2602.3 559.2,2605.2 559.6,2608.2 560.0,2611.2 560.4,2614.2 560.8,2617.2 561.2,2620.1 561.6,2623.1 562.0,2626.1 562.4,2629.1 562.8,2632.1 563.2,2635.0 563.6,2638.0 564.0,2641.0 564.4,2644.0 564.8,2647.0 565.2,2649.9 565.6,2652.9 566.0,2655.9 566.4,2658.9 566.8,2661.8 567.2,2664.8 567.6,2667.8 568.0,2670.8 568.4,2673.8 568.8,2676.7 569.2,2679.7 569.6,2682.7 570.0,2685.7 570.4,2688.7 570.8,2691.6 571.2,2694.6 571.6,2697.6 572.0,2700.6 572.4,2703.5 572.8,2706.5 573.2,2709.5 573.6,2712.5 574.0,2715.5 574.4,2718.4 574.8,2721.4 575.2,2724.4 575.6,2727.4 576.1,2730.4 576.5,2733.3 576.9,2736.3 577.3,2739.3 577.7,2742.3 578.1,2745.2 578.5,2748.2 578.9,2751.2 579.3,2754.2 579.7,2757.2 580.1,2760.1 580.5,2763.1 580.9,2766.1 581.4,2769.1 581.8,2772.0 582.2,2775.0 582.6,2778.0 583.0,2781.0 583.5,2783.9 583.9,2786.9 584.3,2789.9 584.7,2792.9 585.2,2795.8 585.6,2798.8 586.0,2801.8 586.5,2804.8 586.9,2807.7 587.4,2810.7 587.8,2813.7 588.3,2816.7 588.7,2819.6 589.1,2822.6 589.6,2825.6 590.0,2828.6 590.5,2831.5 590.9,2834.5 591.4,2837.5 591.8,2840.4 592.3,2843.4 592.7,2846.4 593.1,2849.4 593.6,2852.3 594.0,2855.3 594.5,2858.3 594.9,2861.3 595.3,2864.2 595.8,2867.2 596.2,2870.2 596.6,2873.2 597.0,2876.1 597.5,2879.1 597.9,2882.1 598.3,2885.1 598.7,2888.0 599.1,2891.0 599.6,2894.0 600.0,2897.0 600.4,2899.9 600.8,2902.9 601.2,2905.9 601.6,2908.9 602.0,2911.9 602.4,2914.8 602.8,2917.8 603.2,2920.8 603.6,2923.8 604.0,2926.7 604.4,2929.7 604.8,2932.7 605.2,2935.7 605.6,2938.7 606.0,2941.6 606.4,2944.6 606.8,2947.6 607.2,2950.6 607.6,2953.6 608.1,2956.5 608.5,2959.5 608.9,2962.5 609.3,2965.5 609.7,2968.4 610.1,2971.4 610.5,2974.4 610.9,2977.4 611.3,2980.3 611.8,2983.3 612.2,2986.3 612.6,2989.3 613.0,2992.2 613.5,2995.2 613.9,2998.2 614.3,3001.2 614.7,3004.2 615.2,3007.1 615.6,3010.1 616.0,3013.1 616.5,3016.0 616.9,3019.0 617.3,3022.0 617.8,3025.0 618.2,3027.9 618.6,3030.9 619.1,3033.9 619.5,3036.9 619.9,3039.8 620.4,3042.8 620.8,3045.8 621.2,3048.8 621.7,3051.7 622.1,3054.7 622.5,3057.7 623.0,3060.7 623.4,3063.6 623.8,3066.6 624.3,3069.6 624.7,3072.6 625.1,3075.5 625.6,3078.5 626.0,3081.5 626.4,3084.5 626.9,3087.4 627.3,3090.4 627.7,3093.4 628.2,3096.4 628.6,3099.3 629.0,3102.3 629.4,3105.3 629.9,3108.3 630.3,3111.2 630.7,3114.2 631.1,3117.2 631.6,3120.2 632.0,3123.1 632.4,3126.1 632.8,3129.1 633.3,3132.1 633.7,3135.0 634.1,3138.0 634.6,3141.0 635.0,3144.0 635.4,3146.9 635.9,3149.9 636.3,3152.9 636.8,3155.9 637.2,3158.8 637.7,3161.8 638.1,3164.8 638.6,3167.7 639.0,3170.7 639.5,3173.7 640.0,3176.6 640.4,3179.6 640.9,3182.6 641.4,3185.5 641.9,3188.5 642.3,3191.5 642.8,3194.4 643.3,3197.4 643.8,3200.4 644.3,3203.3 644.8,3206.3 645.3,3209.3 645.8,3212.2 646.3,3215.2 646.8,3218.2 647.3,3221.1 647.8,3224.1 648.3,3227.1 648.8,3230.0 649.3,3233.0 649.8,3236.0 650.3,3238.9 650.9,3241.9 651.4,3244.8 651.9,3247.8 652.5,3250.8 653.0,3253.7 653.6,3256.7 654.1,3259.6 654.7,3262.6 655.2,3265.5 655.8,3268.5 656.4,3271.4 657.0,3274.4 657.6,3277.3 658.2,3280.3 658.8,3283.2 659.4,3286.1 660.0,3289.1 660.6,3292.0 661.3,3294.9 662.0,3297.9 662.6,3300.8 663.3,3303.7 664.0,3306.6 664.7,3309.6 665.4,3312.5 666.1,3315.4 666.8,3318.3 667.5,3321.3 668.2,3324.2 668.9,3327.1 669.6,3330.0 670.4,3332.9 671.1,3335.9 671.8,3338.8 672.5,3341.7 673.2,3344.6 673.9,3347.6 674.6,3350.5 675.3,3353.4 676.0,3356.3 676.7,3359.3 677.4,3362.2 678.1,3365.1 678.7,3368.0 679.4,3371.0 680.1,3373.9 680.7,3376.8 681.4,3379.8 682.1,3382.7 682.8,3385.6 683.5,3388.5 684.2,3391.5 684.9,3394.4 685.7,3397.3 686.4,3400.2 687.2,3403.1 687.9,3406.0 688.7,3408.9 689.5,3411.8 690.3,3414.7 691.1,3417.6 692.0,3420.5 692.9,3423.4 693.8,3426.2 694.7,3429.1 695.6,3432.0 696.5,3434.8 697.5,3437.7 698.5,3440.5 699.5,3443.3 700.5,3446.2 701.6,3449.0 702.6,3451.8 703.7,3454.6 704.8,3457.4 705.9,3460.2 707.1,3463.0 708.2,3465.8 709.5,3468.5 710.7,3471.3 712.0,3473.9 713.4,3476.6 714.8,3479.3 716.3,3481.9 717.8,3484.5 719.4,3487.1 721.1,3489.6 722.8,3492.0 724.6,3494.4 726.5,3496.8 728.5,3499.1 730.5,3501.3 732.7,3503.5 734.9,3505.4 737.2,3507.2 739.7,3509.0 742.4,3510.7 745.1,3512.0 747.8,3512.9 750.7,3513.6 753.7,3514.1 756.8,3514.4 759.7,3514.3 762.7,3513.9 765.7,3513.4 768.7,3512.9 771.6,3512.3 774.5,3511.6 777.5,3510.9 780.4,3510.1 783.3,3509.3 786.2,3508.5 789.1,3507.8 792.0,3507.1 795.0,3506.5 797.9,3505.9 800.8,3505.3 803.8,3504.7 806.7,3504.1 809.7,3503.5 812.7,3503.0 815.6,3502.4 818.6,3501.9 821.5,3501.4 824.5,3500.9 827.5,3500.4 830.4,3499.9 833.4,3499.4 836.4,3499.0 839.3,3498.5 842.3,3498.1 845.3,3497.7 848.3,3497.3 851.3,3497.0 854.2,3496.7 857.2,3496.4 860.2,3496.1 863.2,3495.8 866.2,3495.5 869.2,3495.2 872.2,3495.0 875.2,3494.7 878.2,3494.5 881.2,3494.3 884.2,3494.0 887.2,3493.7 890.2,3493.5 893.2,3493.2 896.2,3493.0 899.2,3492.8 902.2,3492.6 905.2,3492.5 908.2,3492.5 911.2,3492.5 914.2,3492.5 917.2,3492.5 920.2,3492.5 923.2,3492.5 926.2,3492.5 929.2,3492.5 932.2,3492.5 935.2,3492.5 938.2,3492.5 941.2,3492.6 944.2,3492.8 947.2,3493.0 950.2,3493.4 953.2,3493.8 956.2,3494.2 959.2,3494.6 962.2,3495.0 965.1,3495.4 968.1,3495.7 971.1,3496.0 974.1,3496.3 977.1,3496.6 980.1,3496.8 983.1,3497.1 986.1,3497.4 989.1,3497.7 992.1,3498.0 995.1,3498.3 998.0,3498.6 1001.0,3498.9 1004.0,3499.3 1007.0,3499.6 1010.0,3500.0 1013.0,3500.3 1016.0,3500.7 1018.9,3501.1 1021.9,3501.5 1024.9,3501.9 1027.9,3502.3 1030.9,3502.7 1033.8,3503.1 1036.8,3503.5 1039.8,3503.9 1042.8,3504.4 1045.7,3504.8 1048.7,3505.2 1051.7,3505.7 1054.6,3506.1 1057.6,3506.6 1060.6,3507.1 1063.6,3507.5 1066.5,3508.0 1069.5,3508.5 1072.5,3509.0 1075.4,3509.5 1078.4,3510.0 1081.3,3510.5 1084.3,3511.0 1087.3,3511.5 1090.2,3511.9 1093.2,3512.4 1096.2,3512.9 1099.1,3513.4 1102.1,3513.8 1105.1,3514.3 1108.1,3514.8 1111.0,3515.2 1114.0,3515.7 1117.0,3516.1 1119.9,3516.6 1122.9,3517.1 1125.9,3517.5 1128.9,3518.0 1131.8,3518.4 1134.8,3518.9 1137.8,3519.3 1140.7,3519.8 1143.7,3520.3 1146.7,3520.7 1149.6,3521.2 1152.6,3521.7 1155.6,3522.1 1158.5,3522.6 1161.5,3523.1 1164.5,3523.5 1167.5,3524.0 1170.4,3524.5 1173.4,3525.0 1176.4,3525.4 1179.3,3525.9 1182.3,3526.4 1185.3,3526.9 1188.2,3527.3 1191.2,3527.8 1194.2,3528.3 1197.1,3528.7 1200.1,3529.2 1203.1,3529.7 1206.0,3530.1 1209.0,3530.6 1212.0,3531.0 1215.0,3531.5 1217.9,3531.9 1220.9,3532.4 1223.9,3532.8 1226.8,3533.3 1229.8,3533.7 1232.8,3534.2 1235.8,3534.6 1238.7,3535.1 1241.7,3535.5 1244.7,3536.0 1247.7,3536.4 1250.6,3536.9 1253.6,3537.3 1256.6,3537.8 1259.5,3538.2 1262.5,3538.7 1265.5,3539.1 1268.5,3539.6 1271.4,3540.0 1274.4,3540.4 1277.4,3540.9 1280.3,3541.3 1283.3,3541.8 1286.3,3542.2 1289.3,3542.7 1292.2,3543.1 1295.2,3543.6 1298.2,3544.0 1301.2,3544.4 1304.1,3544.9 1307.1,3545.3 1310.1,3545.8 1313.0,3546.2 1316.0,3546.6 1319.0,3547.1 1322.0,3547.5 1324.9,3547.9 1327.9,3548.4 1330.9,3548.8 1333.9,3549.2 1336.9,3549.6 1339.8,3550.0 1342.8,3550.3 1345.8,3550.7 1348.8,3551.1 1351.8,3551.4 1354.8,3551.8 1357.7,3552.1 1360.7,3552.4 1363.7,3552.8 1366.7,3553.1 1369.7,3553.4 1372.7,3553.7 1375.7,3554.1 1378.7,3554.4 1381.6,3554.7 1384.6,3555.0 1387.6,3555.3 1390.6,3555.6 1393.6,3555.9 1396.6,3556.2 1399.6,3556.5 1402.6,3556.8 1405.6,3557.1 1408.6,3557.4 1411.6,3557.7 1414.5,3558.0 1417.5,3558.3 1420.5,3558.6 1423.5,3558.9 1426.5,3559.2 1429.5,3559.5 1432.5,3559.8 1435.5,3560.1 1438.5,3560.4 1441.5,3560.7 1444.4,3561.0 1447.4,3561.3 1450.4,3561.6 1453.4,3561.9 1456.4,3562.2 1459.4,3562.5 1462.4,3562.8 1465.4,3563.1 1468.4,3563.4 1471.4,3563.7 1474.4,3563.9 1477.4,3564.2 1480.4,3564.5 1483.3,3564.8 1486.3,3565.0 1489.3,3565.3 1492.3,3565.5 1495.3,3565.8 1498.3,3566.0 1501.3,3566.3 1504.3,3566.5 1507.3,3566.8 1510.3,3567.0 1513.3,3567.2 1516.3,3567.4 1519.3,3567.6 1522.3,3567.9 1525.3,3568.1 1528.3,3568.3 1531.3,3568.5 1534.3,3568.7 1537.3,3568.9 1540.3,3569.1 1543.3,3569.3 1546.3,3569.5 1549.3,3569.7 1552.3,3569.9 1555.3,3570.1 1558.3,3570.3 1561.3,3570.4 1564.3,3570.6 1567.3,3570.8 1570.3,3571.0 1573.3,3571.2 1576.3,3571.4 1579.3,3571.6 1582.3,3571.8 1585.3,3572.0 1588.3,3572.1 1591.3,3572.3 1594.3,3572.5 1597.3,3572.7 1600.3,3572.9 1603.3,3573.1 1606.3,3573.2 1609.3,3573.4 1612.3,3573.6 1615.3,3573.8 1618.3,3574.0 1621.3,3574.1 1624.3,3574.3 1627.3,3574.5 1630.3,3574.7 1633.3,3574.8 1636.3,3575.0 1639.3,3575.2 1642.3,3575.4 1645.3,3575.5 1648.3,3575.7 1651.3,3575.9 1654.3,3576.0 1657.3,3576.2 1660.3,3576.4 1663.3,3576.5 1666.3,3576.7 1669.3,3576.8 1672.3,3577.0 1675.3,3577.2 1678.3,3577.3 1681.3,3577.5 1684.3,3577.6 1687.3,3577.8 1690.3,3578.0 1693.3,3578.1 1696.3,3578.3 1699.3,3578.4 1702.3,3578.6 1705.3,3578.7 1708.3,3578.9 1711.3,3579.0 1714.3,3579.2 1717.3,3579.3 1720.3,3579.5 1723.3,3579.6 1726.3,3579.8 1729.3,3579.9 1732.3,3580.0 1735.3,3580.2 1738.3,3580.3 1741.3,3580.5 1744.3,3580.6 1747.3,3580.7 1750.3,3580.9 1753.3,3581.0 1756.3,3581.1 1759.4,3581.3 1762.4,3581.4 1765.4,3581.6 1768.4,3581.7 1771.4,3581.8 1774.4,3582.0 1777.4,3582.1 1780.4,3582.2 1783.4,3582.4 1786.4,3582.5 1789.4,3582.6 1792.4,3582.7 1795.4,3582.9 1798.4,3583.0 1801.4,3583.1 1804.4,3583.3 1807.4,3583.4 1810.4,3583.5 1813.4,3583.6 1816.4,3583.8 1819.4,3583.9 1822.4,3584.0 1825.4,3584.2 1828.4,3584.3 1831.4,3584.4 1834.4,3584.5 1837.4,3584.6 1840.4,3584.8 1843.4,3584.9 1846.4,3585.0 1849.4,3585.1 1852.4,3585.2 1855.4,3585.4 1858.5,3585.5 1861.5,3585.6 1864.5,3585.7 1867.5,3585.8 1870.5,3586.0 1873.5,3586.1 1876.5,3586.2 1879.5,3586.3 1882.5,3586.4 1885.5,3586.5 1888.5,3586.6 1891.5,3586.8 1894.5,3586.9 1897.5,3587.0 1900.5,3587.1 1903.5,3587.2 1906.5,3587.3 1909.5,3587.4 1912.5,3587.5 1915.5,3587.6 1918.5,3587.7 1921.5,3587.8 1924.5,3587.9 1927.5,3588.0 1930.5,3588.2 1933.5,3588.3 1936.5,3588.4 1939.5,3588.5 1942.6,3588.6 1945.6,3588.7 1948.6,3588.8 1951.6,3588.9 1954.6,3589.0 1957.6,3589.1 1960.6,3589.2 1963.6,3589.3 1966.6,3589.4 1969.6,3589.5 1972.6,3589.6 1975.6,3589.7 1978.6,3589.8 1981.6,3589.8 1984.6,3589.9 1987.6,3590.0 1990.6,3590.1 1993.6,3590.2 1996.6,3590.3 1999.6,3590.4 2002.6,3590.5 2005.6,3590.6 2008.6,3590.7 2011.6,3590.8 2014.6,3590.9 2017.7,3591.0 2020.7,3591.1 2023.7,3591.2 2026.7,3591.2 2029.7,3591.3 2032.7,3591.4 2035.7,3591.5 2038.7,3591.6 2041.7,3591.7 2044.7,3591.8 2047.7,3591.9 2050.7,3592.0 2053.7,3592.0 2056.7,3592.1 2059.7,3592.2 2062.7,3592.3 2065.7,3592.4 2068.7,3592.5 2071.7,3592.6 2074.7,3592.6 2077.7,3592.7 2080.7,3592.8 2083.7,3592.9 2086.8,3593.0 2089.8,3593.1 2092.8,3593.1 2095.8,3593.2 2098.8,3593.3 2101.8,3593.4 2104.8,3593.5 2107.8,3593.6 2110.8,3593.6 2113.8,3593.7 2116.8,3593.8 2119.8,3593.9 2122.8,3594.0 2125.8,3594.0 2128.8,3594.1 2131.8,3594.2 2134.8,3594.3 2137.8,3594.4 2140.8,3594.4 2143.8,3594.5 2146.8,3594.6 2149.8,3594.7 2152.9,3594.8 2155.9,3594.8 2158.9,3594.9 2161.9,3595.0 2164.9,3595.1 2167.9,3595.1 2170.9,3595.2 2173.9,3595.3 2176.9,3595.4 2179.9,3595.4 2182.9,3595.5 2185.9,3595.6 2188.9,3595.7 2191.9,3595.7 2194.9,3595.8 2197.9,3595.9 2200.9,3596.0 2203.9,3596.0 2206.9,3596.1 2209.9,3596.2 2212.9,3596.2 2216.0,3596.3 2219.0,3596.4 2222.0,3596.5 2225.0,3596.5 2228.0,3596.6 2231.0,3596.7 2234.0,3596.7 2237.0,3596.8 2240.0,3596.9 2243.0,3596.9 2246.0,3597.0" fill="none" stroke="#ff0000" stroke-width="4" stroke-linejoin="round"/>
<polyline points="1457.2,3594.2 1460.2,3593.9 1463.2,3593.6 1466.2,3593.3 1469.2,3593.0 1472.2,3592.7 1475.2,3592.4 1478.2,3592.1 1481.2,3591.8 1484.2,3591.5 1487.2,3591.2 1490.2,3590.9 1493.2,3590.6 1496.2,3590.3 1499.2,3589.9 1502.2,3589.6 1505.2,3589.3 1508.2,3589.0 1511.2,3588.7 1514.2,3588.3 1517.2,3588.0 1520.2,3587.7 1523.2,3587.3 1526.2,3587.0 1529.2,3586.6 1532.2,3586.3 1535.2,3586.0 1538.2,3585.6 1541.2,3585.3 1544.1,3585.0 1547.1,3584.7 1550.1,3584.4 1553.1,3584.0 1556.1,3583.7 1559.1,3583.4 1562.1,3583.1 1565.1,3582.8 1568.1,3582.4 1571.1,3582.1 1574.1,3581.8 1577.1,3581.5 1580.1,3581.2 1583.1,3580.9 1586.1,3580.6 1589.1,3580.3 1592.1,3580.0 1595.1,3579.7 1598.1,3579.5 1601.1,3579.2 1604.1,3578.9 1607.1,3578.7 1610.2,3578.4 1613.2,3578.2 1616.2,3577.9 1619.2,3577.7 1622.2,3577.5 1625.2,3577.3 1628.2,3577.1 1631.2,3577.0 1634.2,3576.9 1637.2,3576.7 1640.2,3576.6 1643.3,3576.5 1646.3,3576.4 1649.3,3576.3 1652.3,3576.2 1655.3,3576.2 1658.3,3576.2 1661.3,3576.2 1664.4,3576.3 1667.4,3576.3 1670.4,3576.4 1673.4,3576.5 1676.4,3576.6 1679.4,3576.7 1682.4,3576.8 1685.5,3576.9 1688.5,3577.0 1691.5,3577.2 1694.5,3577.3 1697.5,3577.4 1700.5,3577.5 1703.5,3577.6 1706.5,3577.8 1709.6,3577.9 1712.6,3578.0 1715.6,3578.2 1718.6,3578.3 1721.6,3578.5 1724.6,3578.6 1727.6,3578.8 1730.6,3578.9 1733.7,3579.0 1736.7,3579.2 1739.7,3579.3 1742.7,3579.4 1745.7,3579.5 1748.7,3579.6 1751.7,3579.7 1754.7,3579.8 1757.8,3579.9 1760.8,3580.0 1763.8,3580.2 1766.8,3580.3 1769.8,3580.4 1772.8,3580.5 1775.8,3580.6 1778.8,3580.7 1781.9,3580.7 1784.9,3580.8 1787.9,3580.9 1790.9,3581.0 1793.9,3581.1 1796.9,3581.2 1799.9,3581.3 1803.0,3581.4 1806.0,3581.5 1809.0,3581.6 1812.0,3581.7 1815.0,3581.8 1818.0,3581.8 1821.0,3581.9 1824.1,3582.0 1827.1,3582.1 1830.1,3582.2 1833.1,3582.3 1836.1,3582.4 1839.1,3582.4 1842.1,3582.5 1845.1,3582.6 1848.2,3582.7 1851.2,3582.8 1854.2,3582.9 1857.2,3582.9 1860.2,3583.0 1863.2,3583.1 1866.2,3583.2 1869.3,3583.3 1872.3,3583.4 1875.3,3583.4 1878.3,3583.5 1881.3,3583.6 1884.3,3583.7 1887.3,3583.8 1890.4,3583.9 1893.4,3584.0 1896.4,3584.0 1899.4,3584.1 1902.4,3584.2 1905.4,3584.3 1908.4,3584.4 1911.5,3584.5 1914.5,3584.6 1917.5,3584.7 1920.5,3584.8 1923.5,3584.8 1926.5,3584.9 1929.5,3585.0 1932.6,3585.1 1935.6,3585.2 1938.6,3585.3 1941.6,3585.4 1944.6,3585.5 1947.6,3585.6 1950.6,3585.7 1953.6,3585.8 1956.7,3585.9 1959.7,3586.0 1962.7,3586.0 1965.7,3586.1 1968.7,3586.2 1971.7,3586.3 1974.7,3586.4 1977.8,3586.5 1980.8,3586.6 1983.8,3586.7 1986.8,3586.8 1989.8,3586.9 1992.8,3587.0 1995.8,3587.1 1998.9,3587.2 2001.9,3587.2 2004.9,3587.3 2007.9,3587.4 2010.9,3587.5 2013.9,3587.6 2016.9,3587.7 2019.9,3587.8 2023.0,3587.9 2026.0,3588.0 2029.0,3588.1 2032.0,3588.1 2035.0,3588.2 2038.0,3588.3 2041.0,3588.4 2044.1,3588.5 2047.1,3588.6 2050.1,3588.7 2053.1,3588.8 2056.1,3588.8 2059.1,3588.9 2062.1,3589.0 2065.2,3589.1 2068.2,3589.2 2071.2,3589.3 2074.2,3589.3 2077.2,3589.4 2080.2,3589.5 2083.2,3589.6 2086.3,3589.7 2089.3,3589.7 2092.3,3589.8 2095.3,3589.9 2098.3,3590.0 2101.3,3590.1 2104.3,3590.1 2107.3,3590.2 2110.4,3590.3 2113.4,3590.4 2116.4,3590.4 2119.4,3590.5 2122.4,3590.6 2125.4,3590.7 2128.4,3590.8 2131.5,3590.8 2134.5,3590.9 2137.5,3591.0 2140.5,3591.1 2143.5,3591.1 2146.5,3591.2 2149.5,3591.3 2152.6,3591.4 2155.6,3591.4 2158.6,3591.5 2161.6,3591.6 2164.6,3591.6 2167.6,3591.7 2170.6,3591.8 2173.7,3591.9 2176.7,3591.9 2179.7,3592.0 2182.7,3592.1 2185.7,3592.1 2188.7,3592.2 2191.7,3592.3 2194.8,3592.4 2197.8,3592.4 2200.8,3592.5 2203.8,3592.6 2206.8,3592.6 2209.8,3592.7 2212.8,3592.8 2215.9,3592.8 2218.9,3592.9 2221.9,3593.0 2224.9,3593.0 2227.9,3593.1 2230.9,3593.2 2233.9,3593.2 2237.0,3593.3 2240.0,3593.4 2243.0,3593.4 2246.0,3593.5" fill="none" stroke="#0000ff" stroke-width="4" stroke-linejoin="round"/>
<polyline points="539.9,2625.8 540.4,2628.8 540.9,2631.7 541.5,2634.7 542.0,2637.6 542.5,2640.6 543.0,2643.6 543.5,2646.5 544.1,2649.5 544.6,2652.4 545.1,2655.4 545.6,2658.4 546.1,2661.3 546.7,2664.3 547.2,2667.2 547.7,2670.2 548.2,2673.1 548.7,2676.1 549.2,2679.1 549.8,2682.0 550.3,2685.0 550.8,2687.9 551.3,2690.9 551.8,2693.9 552.3,2696.8 552.8,2699.8 553.3,2702.8 553.8,2705.7 554.4,2708.7 554.9,2711.6 555.4,2714.6 555.9,2717.6 556.4,2720.5 556.9,2723.5 557.4,2726.4 557.9,2729.4 558.4,2732.4 558.9,2735.3 559.4,2738.3 559.9,2741.3 560.4,2744.2 560.9,2747.2 561.4,2750.1 561.9,2753.1 562.4,2756.1 562.9,2759.0 563.4,2762.0 563.9,2765.0 564.5,2767.9 565.0,2770.9 565.5,2773.8 566.0,2776.8 566.6,2779.7 567.1,2782.7 567.6,2785.7 568.1,2788.6 568.7,2791.6 569.2,2794.5 569.7,2797.5 570.3,2800.4 570.8,2803.4 571.3,2806.4 571.9,2809.3 572.4,2812.3 573.0,2815.2 573.5,2818.2 574.0,2821.1 574.6,2824.1 575.1,2827.0 575.7,2830.0 576.2,2833.0 576.8,2835.9 577.3,2838.9 577.9,2841.8 578.5,2844.8 579.0,2847.7 579.6,2850.7 580.2,2853.6 580.7,2856.6 581.3,2859.5 581.9,2862.5 582.5,2865.4 583.1,2868.4 583.6,2871.3 584.2,2874.2 584.8,2877.2 585.4,2880.1 586.0,2883.1 586.6,2886.0 587.3,2889.0 587.9,2891.9 588.5,2894.8 589.2,2897.8 589.8,2900.7 590.5,2903.6 591.1,2906.6 591.8,2909.5 592.5,2912.4 593.1,2915.3 593.8,2918.3 594.5,2921.2 595.2,2924.1 595.9,2927.1 596.5,2930.0 597.2,2932.9 597.9,2935.8 598.6,2938.8 599.3,2941.7 599.9,2944.6 600.6,2947.6 601.3,2950.5 602.0,2953.4 602.6,2956.3 603.3,2959.3 603.9,2962.2 604.6,2965.1 605.2,2968.1 605.9,2971.0 606.5,2973.9 607.1,2976.9 607.8,2979.8 608.4,2982.8 609.0,2985.7 609.6,2988.6 610.2,2991.6 610.8,2994.5 611.4,2997.5 611.9,3000.4 612.5,3003.4 613.1,3006.3 613.7,3009.3 614.2,3012.2 614.8,3015.2 615.4,3018.1 615.9,3021.1 616.5,3024.0 617.0,3027.0 617.6,3029.9 618.2,3032.9 618.7,3035.8 619.3,3038.8 619.9,3041.7 620.4,3044.7 621.0,3047.6 621.6,3050.6 622.1,3053.5 622.7,3056.5 623.3,3059.4 623.8,3062.4 624.4,3065.3 625.0,3068.3 625.6,3071.2 626.2,3074.2 626.8,3077.1 627.4,3080.1 628.0,3083.0 628.6,3085.9 629.3,3088.9 629.9,3091.8 630.5,3094.8 631.1,3097.7 631.8,3100.6 632.4,3103.6 633.0,3106.5 633.7,3109.4 634.3,3112.4 635.0,3115.3 635.6,3118.2 636.3,3121.2 636.9,3124.1 637.6,3127.0 638.2,3130.0 638.9,3132.9 639.5,3135.8 640.2,3138.8 640.8,3141.7 641.5,3144.6 642.1,3147.6 642.8,3150.5 643.5,3153.4 644.1,3156.4 644.8,3159.3 645.4,3162.2 646.1,3165.2 646.7,3168.1 647.4,3171.0 648.1,3174.0 648.7,3176.9 649.4,3179.8 650.0,3182.8 650.7,3185.7 651.3,3188.6 652.0,3191.6 652.6,3194.5 653.2,3197.4 653.9,3200.4 654.5,3203.3 655.2,3206.2 655.8,3209.2 656.4,3212.1 657.1,3215.1 657.7,3218.0 658.4,3220.9 659.0,3223.9 659.6,3226.8 660.3,3229.7 660.9,3232.7 661.6,3235.6 662.2,3238.5 662.9,3241.5 663.5,3244.4 664.2,3247.3 664.9,3250.3 665.5,3253.2 666.2,3256.1 666.9,3259.0 667.5,3262.0 668.2,3264.9 668.9,3267.8 669.6,3270.7 670.3,3273.7 671.0,3276.6 671.7,3279.5 672.4,3282.4 673.1,3285.3 673.8,3288.3 674.5,3291.2 675.3,3294.1 676.0,3297.0 676.7,3299.9 677.4,3302.8 678.2,3305.8 678.9,3308.7 679.7,3311.6 680.4,3314.5 681.2,3317.4 681.9,3320.3 682.7,3323.2 683.4,3326.1 684.2,3329.0 685.0,3331.9 685.8,3334.8 686.5,3337.7 687.3,3340.6 688.1,3343.5 688.9,3346.4 689.7,3349.3 690.5,3352.2 691.3,3355.1 692.1,3358.0 693.0,3360.9 693.8,3363.8 694.6,3366.7 695.5,3369.6 696.3,3372.4 697.2,3375.3 698.1,3378.2 699.0,3381.1 699.9,3383.9 700.8,3386.8 701.7,3389.7 702.6,3392.5 703.5,3395.4 704.4,3398.2 705.4,3401.1 706.3,3403.9 707.3,3406.8 708.2,3409.6 709.2,3412.5 710.2,3415.3 711.1,3418.2 712.1,3421.0 713.1,3423.8 714.1,3426.7 715.1,3429.5 716.1,3432.4 717.1,3435.2 718.1,3438.0 719.2,3440.8 720.3,3443.6 721.3,3446.4 722.5,3449.2 723.6,3452.0 724.8,3454.8 726.0,3457.5 727.2,3460.3 728.4,3463.0 729.7,3465.8 731.0,3468.5 732.4,3471.1 733.7,3473.8 735.1,3476.5 736.6,3479.1 738.1,3481.7 739.6,3484.3 741.2,3486.9 742.8,3489.4 744.5,3491.9 746.3,3494.2 748.2,3496.6 750.2,3498.9 752.2,3501.1 754.3,3503.3 756.5,3505.4 758.7,3507.4 761.0,3509.3 763.4,3511.3 765.9,3513.1 768.5,3514.7 771.1,3515.8 773.9,3516.6 776.9,3517.4 779.9,3517.9 782.9,3518.1 785.9,3518.0 788.9,3517.8 791.9,3517.5 794.9,3517.2 797.9,3516.8 800.9,3516.4 803.8,3515.9 806.8,3515.3 809.7,3514.7 812.6,3513.9 815.6,3513.2 818.5,3512.5 821.4,3511.7 824.3,3510.9 827.1,3510.0 830.0,3509.0 832.8,3508.1 835.7,3507.2 838.6,3506.2 841.4,3505.3 844.3,3504.4 847.2,3503.6 850.1,3502.9 853.0,3502.2 855.9,3501.5 858.9,3500.8 861.8,3500.1 864.7,3499.5 867.7,3498.9 870.6,3498.3 873.6,3497.7 876.5,3497.2 879.5,3496.7 882.5,3496.2 885.4,3495.7 888.4,3495.3 891.4,3494.9 894.4,3494.4 897.3,3494.0 900.3,3493.7 903.3,3493.4 906.3,3493.1 909.3,3492.8 912.3,3492.5 915.3,3492.3 918.3,3492.1 921.3,3491.9 924.3,3491.7 927.3,3491.5 930.3,3491.3 933.3,3491.2 936.3,3491.1 939.3,3490.9 942.3,3490.8 945.3,3490.7 948.3,3490.6 951.3,3490.5 954.3,3490.5 957.3,3490.4 960.3,3490.3 963.3,3490.3 966.3,3490.3 969.3,3490.3 972.3,3490.4 975.3,3490.5 978.3,3490.6 981.3,3490.7 984.3,3490.9 987.3,3491.1 990.3,3491.3 993.3,3491.5 996.3,3491.7 999.3,3491.9 1002.3,3492.1 1005.3,3492.3 1008.3,3492.6 1011.3,3492.8 1014.3,3493.1 1017.3,3493.4 1020.3,3493.7 1023.3,3494.1 1026.2,3494.4 1029.2,3494.8 1032.2,3495.1 1035.2,3495.5 1038.2,3495.9 1041.2,3496.3 1044.1,3496.7 1047.1,3497.1 1050.1,3497.5 1053.1,3497.9 1056.0,3498.3 1059.0,3498.7 1062.0,3499.1 1065.0,3499.5 1067.9,3500.0 1070.9,3500.4 1073.9,3500.9 1076.9,3501.3 1079.8,3501.8 1082.8,3502.2 1085.8,3502.7 1088.7,3503.2 1091.7,3503.7 1094.7,3504.1 1097.6,3504.6 1100.6,3505.1 1103.6,3505.6 1106.5,3506.1 1109.5,3506.7 1112.4,3507.2 1115.4,3507.7 1118.3,3508.3 1121.3,3508.9 1124.2,3509.4 1127.2,3510.0 1130.1,3510.5 1133.1,3511.1 1136.0,3511.7 1139.0,3512.2 1141.9,3512.8 1144.9,3513.4 1147.9,3513.9 1150.8,3514.5 1153.8,3515.0 1156.7,3515.5 1159.7,3516.1 1162.6,3516.6 1165.6,3517.2 1168.5,3517.7 1171.5,3518.2 1174.5,3518.8 1177.4,3519.3 1180.4,3519.8 1183.3,3520.4 1186.3,3520.9 1189.2,3521.4 1192.2,3522.0 1195.2,3522.5 1198.1,3523.0 1201.1,3523.5 1204.0,3524.0 1207.0,3524.5 1210.0,3525.0 1212.9,3525.5 1215.9,3526.0 1218.9,3526.5 1221.8,3527.0 1224.8,3527.4 1227.8,3527.9 1230.7,3528.4 1233.7,3528.9 1236.7,3529.3 1239.6,3529.8 1242.6,3530.3 1245.6,3530.7 1248.5,3531.2 1251.5,3531.7 1254.5,3532.1 1257.4,3532.6 1260.4,3533.0 1263.4,3533.5 1266.3,3533.9 1269.3,3534.4 1272.3,3534.8 1275.3,3535.3 1278.2,3535.7 1281.2,3536.1 1284.2,3536.6 1287.2,3537.0 1290.1,3537.4 1293.1,3537.9 1296.1,3538.3 1299.0,3538.8 1302.0,3539.2 1305.0,3539.7 1308.0,3540.1 1310.9,3540.6 1313.9,3541.1 1316.9,3541.5 1319.8,3542.0 1322.8,3542.5 1325.7,3543.0 1328.7,3543.5 1331.7,3544.0 1334.6,3544.5 1337.6,3544.9 1340.6,3545.4 1343.6,3545.8 1346.5,3546.2 1349.5,3546.6 1352.5,3547.0 1355.5,3547.4 1358.4,3547.8 1361.4,3548.2 1364.4,3548.6 1367.4,3549.0 1370.4,3549.4 1373.3,3549.7 1376.3,3550.1 1379.3,3550.5 1382.3,3550.8 1385.3,3551.2 1388.3,3551.5 1391.2,3551.9 1394.2,3552.2 1397.2,3552.6 1400.2,3552.9 1403.2,3553.3 1406.2,3553.6 1409.2,3553.9 1412.1,3554.3 1415.1,3554.6 1418.1,3555.0 1421.1,3555.3 1424.1,3555.6 1427.1,3556.0 1430.1,3556.3 1433.0,3556.6 1436.0,3556.9 1439.0,3557.3 1442.0,3557.6 1445.0,3557.9 1448.0,3558.2 1451.0,3558.5 1454.0,3558.8 1456.9,3559.2 1459.9,3559.5 1462.9,3559.8 1465.9,3560.1 1468.9,3560.4 1471.9,3560.7 1474.9,3561.0 1477.9,3561.3 1480.9,3561.6 1483.8,3561.9 1486.8,3562.2 1489.8,3562.5 1492.8,3562.7 1495.8,3563.0 1498.8,3563.3 1501.8,3563.6 1504.8,3563.9 1507.8,3564.2 1510.8,3564.4 1513.8,3564.7 1516.7,3565.0 1519.7,3565.3 1522.7,3565.5 1525.7,3565.8 1528.7,3566.1 1531.7,3566.3 1534.7,3566.6 1537.7,3566.9 1540.7,3567.1 1543.7,3567.4 1546.7,3567.7 1549.7,3567.9 1552.7,3568.2 1555.7,3568.4 1558.7,3568.7 1561.6,3568.9 1564.6,3569.2 1567.6,3569.4 1570.6,3569.6 1573.6,3569.9 1576.6,3570.1 1579.6,3570.3 1582.6,3570.5 1585.6,3570.7 1588.6,3571.0 1591.6,3571.2 1594.6,3571.4 1597.6,3571.6 1600.6,3571.8 1603.6,3572.0 1606.6,3572.2 1609.6,3572.4 1612.6,3572.6 1615.6,3572.8 1618.6,3573.0 1621.6,3573.1 1624.6,3573.3 1627.6,3573.5 1630.6,3573.7 1633.6,3573.9 1636.6,3574.1 1639.6,3574.3 1642.6,3574.5 1645.6,3574.6 1648.6,3574.8 1651.6,3575.0 1654.6,3575.2 1657.6,3575.4 1660.6,3575.6 1663.6,3575.8 1666.6,3576.0 1669.6,3576.2 1672.6,3576.4 1675.6,3576.6 1678.6,3576.8 1681.6,3577.0 1684.5,3577.2 1687.5,3577.4 1690.5,3577.6 1693.5,3577.8 1696.5,3578.0 1699.5,3578.2 1702.5,3578.4 1705.5,3578.6 1708.5,3578.8 1711.5,3579.0 1714.5,3579.1 1717.5,3579.3 1720.5,3579.5 1723.5,3579.7 1726.5,3579.9 1729.5,3580.0 1732.5,3580.2 1735.5,3580.4 1738.5,3580.5 1741.5,3580.7 1744.5,3580.8 1747.5,3581.0 1750.5,3581.1 1753.5,3581.3 1756.5,3581.4 1759.5,3581.6 1762.5,3581.7 1765.5,3581.9 1768.5,3582.0 1771.5,3582.1 1774.5,3582.3 1777.5,3582.4 1780.5,3582.6 1783.5,3582.7 1786.5,3582.8 1789.5,3583.0 1792.5,3583.1 1795.5,3583.2 1798.5,3583.4 1801.5,3583.5 1804.5,3583.6 1807.6,3583.7 1810.6,3583.9 1813.6,3584.0 1816.6,3584.1 1819.6,3584.2 1822.6,3584.4 1825.6,3584.5 1828.6,3584.6 1831.6,3584.7 1834.6,3584.8 1837.6,3585.0 1840.6,3585.1 1843.6,3585.2 1846.6,3585.3 1849.6,3585.4 1852.6,3585.5 1855.6,3585.7 1858.6,3585.8 1861.6,3585.9 1864.6,3586.0 1867.6,3586.1 1870.6,3586.2 1873.6,3586.3 1876.6,3586.4 1879.6,3586.5 1882.6,3586.7 1885.6,3586.8 1888.6,3586.9 1891.6,3587.0 1894.6,3587.1 1897.6,3587.2 1900.6,3587.3 1903.6,3587.4 1906.6,3587.5 1909.6,3587.6 1912.6,3587.7 1915.6,3587.8 1918.6,3587.9 1921.6,3588.0 1924.6,3588.1 1927.7,3588.2 1930.7,3588.3 1933.7,3588.4 1936.7,3588.5 1939.7,3588.6 1942.7,3588.7 1945.7,3588.8 1948.7,3588.9 1951.7,3589.0 1954.7,3589.1 1957.7,3589.2 1960.7,3589.3 1963.7,3589.4 1966.7,3589.5 1969.7,3589.6 1972.7,3589.7 1975.7,3589.8 1978.7,3589.9 1981.7,3590.0 1984.7,3590.0 1987.7,3590.1 1990.7,3590.2 1993.7,3590.3 1996.7,3590.4 1999.7,3590.5 2002.7,3590.6 2005.7,3590.7 2008.7,3590.8 2011.7,3590.8 2014.7,3590.9 2017.7,3591.0 2020.7,3591.1 2023.7,3591.2 2026.8,3591.3 2029.8,3591.4 2032.8,3591.5 2035.8,3591.5 2038.8,3591.6 2041.8,3591.7 2044.8,3591.8 2047.8,3591.9 2050.8,3592.0 2053.8,3592.1 2056.8,3592.1 2059.8,3592.2 2062.8,3592.3 2065.8,3592.4 2068.8,3592.5 2071.8,3592.6 2074.8,3592.6 2077.8,3592.7 2080.8,3592.8 2083.8,3592.9 2086.8,3593.0 2089.8,3593.1 2092.8,3593.2 2095.8,3593.2 2098.8,3593.3 2101.8,3593.4 2104.8,3593.5 2107.8,3593.6 2110.8,3593.7 2113.8,3593.7 2116.9,3593.8 2119.9,3593.9 2122.9,3594.0 2125.9,3594.1 2128.9,3594.1 2131.9,3594.2 2134.9,3594.3 2137.9,3594.4 2140.9,3594.5 2143.9,3594.6 2146.9,3594.6 2149.9,3594.7 2152.9,3594.8 2155.9,3594.9 2158.9,3595.0 2161.9,3595.0 2164.9,3595.1 2167.9,3595.2 2170.9,3595.3 2173.9,3595.4 2176.9,3595.4 2179.9,3595.5 2182.9,3595.6 2185.9,3595.7 2188.9,3595.8 2191.9,3595.8 2194.9,3595.9 2197.9,3596.0 2200.9,3596.1 2204.0,3596.1 2207.0,3596.2 2210.0,3596.3 2213.0,3596.4 2216.0,3596.4 2219.0,3596.5 2222.0,3596.6 2225.0,3596.7 2228.0,3596.8 2231.0,3596.8 2234.0,3596.9 2237.0,3597.0 2240.0,3597.1 2243.0,3597.1 2246.0,3597.2" fill="none" stroke="#ff00ff" stroke-width="4" stroke-linejoin="round"/>
<polyline points="1504.5,3567.0 1507.5,3567.2 1510.5,3567.3 1513.5,3567.5 1516.5,3567.6 1519.6,3567.8 1522.6,3568.0 1525.6,3568.1 1528.6,3568.3 1531.6,3568.5 1534.6,3568.6 1537.6,3568.8 1540.6,3569.0 1543.7,3569.1 1546.7,3569.3 1549.7,3569.4 1552.7,3569.6 1555.7,3569.8 1558.7,3569.9 1561.7,3570.1 1564.7,3570.3 1567.7,3570.4 1570.8,3570.6 1573.8,3570.8 1576.8,3570.9 1579.8,3571.1 1582.8,3571.3 1585.8,3571.4 1588.8,3571.6 1591.8,3571.8 1594.9,3571.9 1597.9,3572.1 1600.9,3572.3 1603.9,3572.4 1606.9,3572.6 1609.9,3572.8 1612.9,3573.0 1615.9,3573.1 1618.9,3573.3 1622.0,3573.5 1625.0,3573.6 1628.0,3573.8 1631.0,3574.0 1634.0,3574.1 1637.0,3574.3 1640.0,3574.5 1643.0,3574.6 1646.1,3574.8 1649.1,3575.0 1652.1,3575.1 1655.1,3575.3 1658.1,3575.4 1661.1,3575.6 1664.1,3575.7 1667.1,3575.9 1670.1,3576.1 1673.2,3576.2 1676.2,3576.4 1679.2,3576.5 1682.2,3576.7 1685.2,3576.8 1688.2,3577.0 1691.2,3577.1 1694.2,3577.3 1697.3,3577.4 1700.3,3577.6 1703.3,3577.7 1706.3,3577.9 1709.3,3578.0 1712.3,3578.2 1715.3,3578.3 1718.4,3578.5 1721.4,3578.6 1724.4,3578.7 1727.4,3578.9 1730.4,3579.0 1733.4,3579.1 1736.4,3579.3 1739.4,3579.4 1742.5,3579.5 1745.5,3579.6 1748.5,3579.7 1751.5,3579.9 1754.5,3580.0 1757.5,3580.1 1760.5,3580.2 1763.6,3580.3 1766.6,3580.4 1769.6,3580.5 1772.6,3580.6 1775.6,3580.7 1778.6,3580.9 1781.6,3581.0 1784.7,3581.1 1787.7,3581.2 1790.7,3581.3 1793.7,3581.4 1796.7,3581.5 1799.7,3581.6 1802.7,3581.7 1805.8,3581.8 1808.8,3581.9 1811.8,3582.0 1814.8,3582.1 1817.8,3582.2 1820.8,3582.3 1823.8,3582.4 1826.9,3582.5 1829.9,3582.6 1832.9,3582.7 1835.9,3582.8 1838.9,3582.8 1841.9,3582.9 1845.0,3583.0 1848.0,3583.1 1851.0,3583.2 1854.0,3583.3 1857.0,3583.4 1860.0,3583.5 1863.0,3583.6 1866.1,3583.7 1869.1,3583.8 1872.1,3583.8 1875.1,3583.9 1878.1,3584.0 1881.1,3584.1 1884.1,3584.2 1887.2,3584.3 1890.2,3584.4 1893.2,3584.5 1896.2,3584.5 1899.2,3584.6 1902.2,3584.7 1905.3,3584.8 1908.3,3584.9 1911.3,3585.0 1914.3,3585.1 1917.3,3585.2 1920.3,3585.2 1923.3,3585.3 1926.4,3585.4 1929.4,3585.5 1932.4,3585.6 1935.4,3585.7 1938.4,3585.7 1941.4,3585.8 1944.4,3585.9 1947.5,3586.0 1950.5,3586.1 1953.5,3586.2 1956.5,3586.2 1959.5,3586.3 1962.5,3586.4 1965.6,3586.5 1968.6,3586.6 1971.6,3586.6 1974.6,3586.7 1977.6,3586.8 1980.6,3586.9 1983.6,3586.9 1986.7,3587.0 1989.7,3587.1 1992.7,3587.2 1995.7,3587.3 1998.7,3587.3 2001.7,3587.4 2004.8,3587.5 2007.8,3587.6 2010.8,3587.6 2013.8,3587.7 2016.8,3587.8 2019.8,3587.9 2022.8,3587.9 2025.9,3588.0 2028.9,3588.1 2031.9,3588.2 2034.9,3588.2 2037.9,3588.3 2040.9,3588.4 2044.0,3588.5 2047.0,3588.5 2050.0,3588.6 2053.0,3588.7 2056.0,3588.7 2059.0,3588.8 2062.0,3588.9 2065.1,3589.0 2068.1,3589.0 2071.1,3589.1 2074.1,3589.2 2077.1,3589.2 2080.1,3589.3 2083.2,3589.4 2086.2,3589.5 2089.2,3589.5 2092.2,3589.6 2095.2,3589.7 2098.2,3589.7 2101.3,3589.8 2104.3,3589.9 2107.3,3589.9 2110.3,3590.0 2113.3,3590.1 2116.3,3590.1 2119.3,3590.2 2122.4,3590.3 2125.4,3590.4 2128.4,3590.4 2131.4,3590.5 2134.4,3590.6 2137.4,3590.6 2140.5,3590.7 2143.5,3590.8 2146.5,3590.8 2149.5,3590.9 2152.5,3591.0 2155.5,3591.0 2158.5,3591.1 2161.6,3591.2 2164.6,3591.2 2167.6,3591.3 2170.6,3591.3 2173.6,3591.4 2176.6,3591.5 2179.7,3591.5 2182.7,3591.6 2185.7,3591.7 2188.7,3591.7 2191.7,3591.8 2194.7,3591.9 2197.7,3591.9 2200.8,3592.0 2203.8,3592.0 2206.8,3592.1 2209.8,3592.2 2212.8,3592.2 2215.8,3592.3 2218.9,3592.4 2221.9,3592.4 2224.9,3592.5 2227.9,3592.5 2230.9,3592.6 2233.9,3592.7 2237.0,3592.7 2240.0,3592.8 2243.0,3592.8 2246.0,3592.9" fill="none" stroke="#008000" stroke-width="4" stroke-linejoin="round"/>
</g>
<g shape-rendering="crispEdges">
<rect x="1378" y="3043" width="783" height="4" fill="#000"/>
<rect x="1378" y="3429" width="783" height="4" fill="#000"/>
<rect x="1378" y="3043" width="3" height="390" fill="#000"/>
<rect x="2158" y="3043" width="3" height="390" fill="#000"/>
<rect x="1457" y="3112" width="95" height="4" fill="#000000"/>
<rect x="1457" y="3186" width="95" height="4" fill="#ff0000"/>
<rect x="1457" y="3260" width="95" height="4" fill="#0000ff"/>
<rect x="1457" y="3326" width="95" height="3" fill="#ff00ff"/>
<rect x="1457" y="3378" width="95" height="4" fill="#008000"/>
</g>
<g filter="url(#th)">
<text transform="translate(274.5,1712.9) scale(1,1.035)" font-size="60" text-anchor="end">0.00</text>
<text transform="translate(274.5,1565.9) scale(1,1.035)" font-size="60" text-anchor="end">0.25</text>
<text transform="translate(274.5,1418.9) scale(1,1.035)" font-size="60" text-anchor="end">0.50</text>
<text transform="translate(274.5,1270.9) scale(1,1.035)" font-size="60" text-anchor="end">0.75</text>
<text transform="translate(274.5,1123.9) scale(1,1.035)" font-size="60" text-anchor="end">1.00</text>
<text transform="translate(274.5,975.9) scale(1,1.035)" font-size="60" text-anchor="end">1.25</text>
<text transform="translate(274.5,828.9) scale(1,1.035)" font-size="60" text-anchor="end">1.50</text>
<text transform="translate(274.5,680.9) scale(1,1.035)" font-size="60" text-anchor="end">1.75</text>
<text transform="translate(274.5,533.9) scale(1,1.035)" font-size="60" text-anchor="end">2.00</text>
<text transform="translate(274.5,385.9) scale(1,1.035)" font-size="60" text-anchor="end">2.25</text>
<text transform="translate(274.5,238.9) scale(1,1.035)" font-size="60" text-anchor="end">2.50</text>
<text transform="translate(274.5,91.9) scale(1,1.035)" font-size="60" text-anchor="end">2.75</text>
<text transform="translate(325.5,1795) scale(1,1.035)" font-size="60" text-anchor="middle">150</text>
<text transform="translate(523.7,1795) scale(1,1.035)" font-size="60" text-anchor="middle">165</text>
<text transform="translate(721.9,1795) scale(1,1.035)" font-size="60" text-anchor="middle">180</text>
<text transform="translate(920.1,1795) scale(1,1.035)" font-size="60" text-anchor="middle">195</text>
<text transform="translate(1118.3,1795) scale(1,1.035)" font-size="60" text-anchor="middle">210</text>
<text transform="translate(1316.5,1795) scale(1,1.035)" font-size="60" text-anchor="middle">225</text>
<text transform="translate(1514.7,1795) scale(1,1.035)" font-size="60" text-anchor="middle">240</text>
<text transform="translate(1712.9,1795) scale(1,1.035)" font-size="60" text-anchor="middle">255</text>
<text transform="translate(1911.1,1795) scale(1,1.035)" font-size="60" text-anchor="middle">270</text>
<text transform="translate(2109.3,1795) scale(1,1.035)" font-size="60" text-anchor="middle">285</text>
<text transform="translate(2307.5,1795) scale(1,1.035)" font-size="60" text-anchor="middle">300</text>
<text transform="translate(1317.5,1911.7) scale(1,1.01)" font-size="68.2" text-anchor="middle">Photon energy (eV)</text>
<text transform="translate(96,1283.4) rotate(-90) scale(1,1.01)" font-size="74.2">PI cross section (Mb)</text>
<text transform="translate(1525.8,518.6) scale(1,1.035)" font-size="87.5">(c) 2p</text>
<text transform="translate(1750.4,554.3) scale(1,1.035)" font-size="52">3/2</text>
<text transform="translate(1516.1,1082) scale(1,1.035)" font-size="43.3">n</text>
<text transform="translate(1539.7,1100) scale(1,1.035)" font-size="26.5">e</text>
<text transform="translate(1553.3,1082) scale(1,1.035)" font-size="43.3">=1.0</text>
<text transform="translate(1638.7,1085.3) scale(1,1.035)" font-size="37">×</text>
<text transform="translate(1660.1,1082) scale(1,1.035)" font-size="43.3">10</text>
<text transform="translate(1708,1058) scale(1,1.035)" font-size="26.5">23</text>
<text transform="translate(1736.7,1082) scale(1,1.035)" font-size="43.3">cm</text>
<text transform="translate(1793,1058) scale(1,1.035)" font-size="26.5">-3</text>
<text transform="translate(1816.1,1082) scale(1,1.035)" font-size="43.3">, kT=1000 eV</text>
<text transform="translate(1516.1,1160) scale(1,1.035)" font-size="43.3">n</text>
<text transform="translate(1539.7,1178) scale(1,1.035)" font-size="26.5">e</text>
<text transform="translate(1553.3,1160) scale(1,1.035)" font-size="43.3">=1.0</text>
<text transform="translate(1638.7,1163.3) scale(1,1.035)" font-size="37">×</text>
<text transform="translate(1660.1,1160) scale(1,1.035)" font-size="43.3">10</text>
<text transform="translate(1708,1136) scale(1,1.035)" font-size="26.5">23</text>
<text transform="translate(1736.7,1160) scale(1,1.035)" font-size="43.3">cm</text>
<text transform="translate(1793,1136) scale(1,1.035)" font-size="26.5">-3</text>
<text transform="translate(1816.1,1160) scale(1,1.035)" font-size="43.3">, kT=200 eV</text>
<text transform="translate(1516.1,1238) scale(1,1.035)" font-size="43.3">n</text>
<text transform="translate(1539.7,1256) scale(1,1.035)" font-size="26.5">e</text>
<text transform="translate(1553.3,1238) scale(1,1.035)" font-size="43.3">=1.0</text>
<text transform="translate(1638.7,1241.3) scale(1,1.035)" font-size="37">×</text>
<text transform="translate(1660.1,1238) scale(1,1.035)" font-size="43.3">10</text>
<text transform="translate(1708,1214) scale(1,1.035)" font-size="26.5">19</text>
<text transform="translate(1736.7,1238) scale(1,1.035)" font-size="43.3">cm</text>
<text transform="translate(1793,1214) scale(1,1.035)" font-size="26.5">-3</text>
<text transform="translate(1816.1,1238) scale(1,1.035)" font-size="43.3">, kT=200 eV</text>
<text transform="translate(1515,1307) scale(1,1.035)" font-size="43.3">UEGM</text>
<text transform="translate(1516,1362) scale(1,1.035)" font-size="43.3">Isolated ion</text>
<text transform="translate(319,3627.4) scale(1,1.035)" font-size="56" text-anchor="end">0</text>
<text transform="translate(319,3407.4) scale(1,1.035)" font-size="56" text-anchor="end">2</text>
<text transform="translate(319,3186.4) scale(1,1.035)" font-size="56" text-anchor="end">4</text>
<text transform="translate(319,2966.4) scale(1,1.035)" font-size="56" text-anchor="end">6</text>
<text transform="translate(319,2746.4) scale(1,1.035)" font-size="56" text-anchor="end">8</text>
<text transform="translate(319,2526.4) scale(1,1.035)" font-size="56" text-anchor="end">10</text>
<text transform="translate(319,2306.4) scale(1,1.035)" font-size="56" text-anchor="end">12</text>
<text transform="translate(319,2086.4) scale(1,1.035)" font-size="56" text-anchor="end">14</text>
<text transform="translate(367,3704) scale(1,1.035)" font-size="56" text-anchor="middle">30</text>
<text transform="translate(537.273,3704) scale(1,1.035)" font-size="56" text-anchor="middle">40</text>
<text transform="translate(707.545,3704) scale(1,1.035)" font-size="56" text-anchor="middle">50</text>
<text transform="translate(877.818,3704) scale(1,1.035)" font-size="56" text-anchor="middle">60</text>
<text transform="translate(1048.09,3704) scale(1,1.035)" font-size="56" text-anchor="middle">70</text>
<text transform="translate(1218.36,3704) scale(1,1.035)" font-size="56" text-anchor="middle">80</text>
<text transform="translate(1388.64,3704) scale(1,1.035)" font-size="56" text-anchor="middle">90</text>
<text transform="translate(1558.91,3704) scale(1,1.035)" font-size="56" text-anchor="middle">100</text>
<text transform="translate(1729.18,3704) scale(1,1.035)" font-size="56" text-anchor="middle">110</text>
<text transform="translate(1899.45,3704) scale(1,1.035)" font-size="56" text-anchor="middle">120</text>
<text transform="translate(2069.73,3704) scale(1,1.035)" font-size="56" text-anchor="middle">130</text>
<text transform="translate(2240,3704) scale(1,1.035)" font-size="56" text-anchor="middle">140</text>
<text transform="translate(1304.2,3817) scale(1,1.01)" font-size="64.3" text-anchor="middle">Photon energy (eV)</text>
<text transform="translate(214,3218.1) rotate(-90) scale(1,1.01)" font-size="70.4">PI cross section (Mb)</text>
<text transform="translate(1594.9,2523.6) scale(1,1.035)" font-size="70.2">(d) 3p</text>
<text transform="translate(1777.7,2550) scale(1,1.035)" font-size="41.5">1/2</text>
<text transform="translate(1563.6,3127.7) scale(1,1.035)" font-size="40.8">n</text>
<text transform="translate(1585.1,3144.7) scale(1,1.035)" font-size="25">e</text>
<text transform="translate(1598.5,3127.7) scale(1,1.035)" font-size="40.8">=1.0</text>
<text transform="translate(1678.9,3130.8) scale(1,1.035)" font-size="35">×</text>
<text transform="translate(1699.4,3127.7) scale(1,1.035)" font-size="40.8">10</text>
<text transform="translate(1744.8,3106.7) scale(1,1.035)" font-size="25">23</text>
<text transform="translate(1771.5,3127.7) scale(1,1.035)" font-size="40.8">cm</text>
<text transform="translate(1824.5,3106.7) scale(1,1.035)" font-size="25">-3</text>
<text transform="translate(1847,3127.7) scale(1,1.035)" font-size="40.8">, kT=1000 eV</text>
<text transform="translate(1563.6,3202.2) scale(1,1.035)" font-size="40.8">n</text>
<text transform="translate(1585.1,3219.2) scale(1,1.035)" font-size="25">e</text>
<text transform="translate(1598.5,3202.2) scale(1,1.035)" font-size="40.8">=1.0</text>
<text transform="translate(1678.9,3205.3) scale(1,1.035)" font-size="35">×</text>
<text transform="translate(1699.4,3202.2) scale(1,1.035)" font-size="40.8">10</text>
<text transform="translate(1744.8,3181.2) scale(1,1.035)" font-size="25">23</text>
<text transform="translate(1771.5,3202.2) scale(1,1.035)" font-size="40.8">cm</text>
<text transform="translate(1824.5,3181.2) scale(1,1.035)" font-size="25">-3</text>
<text transform="translate(1847,3202.2) scale(1,1.035)" font-size="40.8">, kT=200 eV</text>
<text transform="translate(1563.6,3276) scale(1,1.035)" font-size="40.8">n</text>
<text transform="translate(1585.1,3293) scale(1,1.035)" font-size="25">e</text>
<text transform="translate(1598.5,3276) scale(1,1.035)" font-size="40.8">=1.0</text>
<text transform="translate(1678.9,3279.1) scale(1,1.035)" font-size="35">×</text>
<text transform="translate(1699.4,3276) scale(1,1.035)" font-size="40.8">10</text>
<text transform="translate(1744.8,3255) scale(1,1.035)" font-size="25">19</text>
<text transform="translate(1771.5,3276) scale(1,1.035)" font-size="40.8">cm</text>
<text transform="translate(1824.5,3255) scale(1,1.035)" font-size="25">-3</text>
<text transform="translate(1847,3276) scale(1,1.035)" font-size="40.8">, kT=200 eV</text>
<text transform="translate(1564,3341.6) scale(1,1.035)" font-size="40.8">UEGM</text>
<text transform="translate(1564,3394) scale(1,1.035)" font-size="40.8">Isolated ion</text>
</g>
</svg>
</body></html>
